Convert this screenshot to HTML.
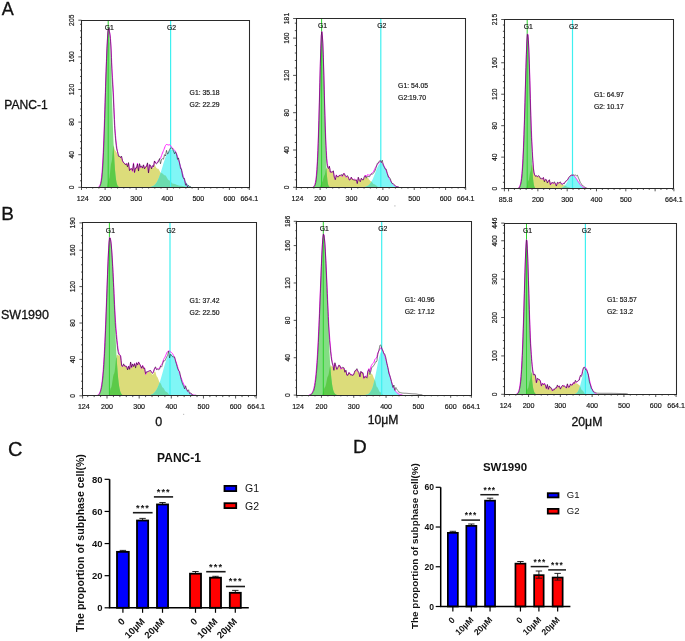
<!DOCTYPE html>
<html><head><meta charset="utf-8"><style>
html,body{margin:0;padding:0;background:#fff;}
svg{display:block;will-change:transform;}
text{font-family:"Liberation Sans", sans-serif;}
.h text{fill:#151515;stroke:#151515;stroke-width:0.18px;}
</style></head><body>
<svg width="685" height="641" viewBox="0 0 685 641">
<rect width="685" height="641" fill="#fff"/>
<g class="h" font-family='"Liberation Sans", sans-serif' fill="#222"><path d="M107 187.3 L107 186.47 L107.5 184.48 L108 182.12 L108.5 180.13 L109 179.3 L109.5 177.53 L110 173.32 L110.5 168.28 L111 164.07 L111.5 162.3 L112 159.64 L112.5 153.8 L113 147.96 L113.5 145.3 L114 146.6 L114.5 149 L115 150.3 L115.5 150.67 L116 151.6 L116.5 152.36 L117 153.38 L117.5 154.39 L118 155.28 L118.5 156.46 L119 156.64 L119.5 156.82 L120 157.21 L120.5 157.25 L121 156.99 L121.5 156.86 L122 158.81 L122.5 160.81 L123 161.8 L123.5 162.74 L124 163.2 L124.5 163.52 L125 164.05 L125.5 164.58 L126 163.85 L126.5 163.26 L127 164.62 L127.5 166.03 L128 164.58 L128.5 163.09 L129 166.76 L129.5 170.3 L130 169.56 L130.5 168.73 L131 168.66 L131.5 168.61 L132 170 L132.5 171.4 L133 167.16 L133.5 162.9 L134 167.75 L134.5 172.57 L135 170.26 L135.5 167.9 L136 168.09 L136.5 168.24 L137 165.7 L137.5 163.16 L138 167.01 L138.5 170.88 L139 167.41 L139.5 163.97 L140 165.93 L140.5 167.91 L141 167.28 L141.5 166.64 L142 167.21 L142.5 167.78 L143 166.33 L143.5 164.89 L144 166.85 L144.5 168.8 L145 167.64 L145.5 166.53 L146 166.21 L146.5 165.95 L147 164.59 L147.5 163.25 L148 168.22 L148.5 173.16 L149 169.06 L149.5 164.89 L150 165.58 L150.5 166.17 L151 167.63 L151.5 169.04 L152 167.97 L152.5 166.88 L153 167.51 L153.5 168.15 L154 165.66 L154.5 163.22 L155 164.76 L155.5 166.45 L156 167.2 L156.5 168.02 L157 168.4 L157.5 168.69 L158 168.77 L158.5 168.96 L159 169.67 L159.5 170.65 L160 171.63 L160.5 172.47 L161 172.8 L161.5 172.91 L162 173.19 L162.5 173.59 L163 174.05 L163.5 174.51 L164 174.91 L164.5 175.19 L165 175.3 L165.5 175.51 L166 176.08 L166.5 176.88 L167 177.8 L167.5 178.72 L168 179.52 L168.5 180.09 L169 180.3 L169.5 180.45 L170 180.83 L170.5 181.38 L171 182 L171.5 182.62 L172 183.17 L172.5 183.55 L173 183.7 L173.5 183.73 L174 183.81 L174.5 183.94 L175 184.1 L175.5 184.28 L176 184.49 L176.5 184.7 L177 184.91 L177.5 185.12 L178 185.3 L178.5 185.46 L179 185.59 L179.5 185.67 L180 185.7 L180.5 185.71 L181 185.75 L181.5 185.82 L182 185.9 L182.5 186 L183 186.11 L183.5 186.24 L184 186.37 L184.5 186.5 L185 186.63 L185.5 186.76 L186 186.89 L186.5 187 L187 187.1 L187.5 187.18 L188 187.25 L188 187.3 Z" fill="#dcdc7a"/>
<path d="M98 187.3 L98 187.23 L98.5 187.15 L99 186.98 L99.5 186.66 L100 186.06 L100.5 185.01 L101 183.26 L101.5 180.48 L102 176.29 L102.5 170.26 L103 162.03 L103.5 151.34 L104 138.17 L104.5 122.79 L105 105.83 L105.5 88.24 L106 71.17 L106.5 55.87 L107 43.48 L107.5 34.82 L108 30.24 L108.5 29.33 L109 31.08 L109.5 35.94 L110 44.04 L110.5 55.08 L111 68.48 L111.5 83.45 L112 99.12 L112.5 114.61 L113 129.18 L113.5 142.25 L114 153.48 L114.5 162.72 L115 170.01 L115.5 175.55 L116 179.57 L116.5 182.39 L117 184.29 L117.5 185.52 L118 186.28 L118.5 186.74 L119 187 L119.5 187.15 L120 187.22 L120 187.3 Z" fill="#82de82"/>
<path d="M147.5 187.3 L147.5 187.24 L148 187.22 L148.5 187.19 L149 187.15 L149.5 187.1 L150 187.03 L150.5 186.95 L151 186.84 L151.5 186.71 L152 186.54 L152.5 186.34 L153 186.09 L153.5 185.79 L154 185.44 L154.5 185.02 L155 184.53 L155.5 183.96 L156 183.31 L156.5 182.56 L157 181.72 L157.5 180.79 L158 179.75 L158.5 178.62 L159 177.39 L159.5 176.06 L160 174.65 L160.5 173.16 L161 171.61 L161.5 170 L162 168.36 L162.5 166.69 L163 165.02 L163.5 163.37 L164 161.75 L164.5 160.17 L165 158.67 L165.5 157.25 L166 155.93 L166.5 154.73 L167 153.65 L167.5 152.7 L168 151.88 L168.5 151.2 L169 150.66 L169.5 150.25 L170 149.97 L170.5 149.79 L171 149.71 L171.5 149.7 L172 149.71 L172.5 149.75 L173 149.85 L173.5 150.01 L174 150.27 L174.5 150.62 L175 151.09 L175.5 151.69 L176 152.42 L176.5 153.28 L177 154.29 L177.5 155.43 L178 156.71 L178.5 158.1 L179 159.61 L179.5 161.22 L180 162.91 L180.5 164.65 L181 166.43 L181.5 168.22 L182 170.01 L182.5 171.77 L183 173.47 L183.5 175.1 L184 176.64 L184.5 178.08 L185 179.41 L185.5 180.62 L186 181.7 L186.5 182.66 L187 183.5 L187.5 184.23 L188 184.84 L188.5 185.36 L189 185.79 L189.5 186.14 L190 186.42 L190.5 186.64 L191 186.81 L191.5 186.94 L192 187.04 L192.5 187.12 L193 187.17 L193.5 187.21 L194 187.24 L194 187.3 Z" fill="#80f6f6"/>
<path d="M107 187.3 L107 186.47 L107.5 184.48 L108 182.12 L108.5 180.13 L109 179.3 L109.5 177.53 L110 173.32 L110.5 168.28 L111 164.07 L111.5 162.3 L112 159.64 L112.5 153.8 L113 147.96 L113.5 145.3 L114 153.48 L114.5 162.72 L115 170.01 L115.5 175.55 L116 179.57 L116.5 182.39 L117 184.29 L117.5 185.52 L118 186.28 L118.5 186.74 L119 187 L119.5 187.15 L120 187.22 L120 187.3 Z" fill="#5cca48"/>
<path d="M147.5 187.3 L147.5 187.24 L148 187.22 L148.5 187.19 L149 187.15 L149.5 187.1 L150 187.03 L150.5 186.95 L151 186.84 L151.5 186.71 L152 186.54 L152.5 186.34 L153 186.09 L153.5 185.79 L154 185.44 L154.5 185.02 L155 184.53 L155.5 183.96 L156 183.31 L156.5 182.56 L157 181.72 L157.5 180.79 L158 179.75 L158.5 178.62 L159 177.39 L159.5 176.06 L160 174.65 L160.5 173.16 L161 172.8 L161.5 172.91 L162 173.19 L162.5 173.59 L163 174.05 L163.5 174.51 L164 174.91 L164.5 175.19 L165 175.3 L165.5 175.51 L166 176.08 L166.5 176.88 L167 177.8 L167.5 178.72 L168 179.52 L168.5 180.09 L169 180.3 L169.5 180.45 L170 180.83 L170.5 181.38 L171 182 L171.5 182.62 L172 183.17 L172.5 183.55 L173 183.7 L173.5 183.73 L174 183.81 L174.5 183.94 L175 184.1 L175.5 184.28 L176 184.49 L176.5 184.7 L177 184.91 L177.5 185.12 L178 185.3 L178.5 185.46 L179 185.59 L179.5 185.67 L180 185.7 L180.5 185.71 L181 185.75 L181.5 185.82 L182 185.9 L182.5 186 L183 186.11 L183.5 186.24 L184 186.37 L184.5 186.5 L185 186.63 L185.5 186.76 L186 186.89 L186.5 187 L187 187.1 L187.5 187.18 L188 187.25 L188 187.3 Z" fill="#6cdcae"/>
<line x1="108.2" y1="20.2" x2="108.2" y2="187.3" stroke="#2fd02f" stroke-width="1"/>
<line x1="170.6" y1="20.2" x2="170.6" y2="187.3" stroke="#3ff0f0" stroke-width="1.2"/>
<path d="M98.5 186.97 L99 186.65 L99.5 186.1 L100 185.16 L100.5 183.64 L101 181.27 L101.5 177.75 L102 172.73 L102.5 165.92 L103 157.05 L103.5 146.05 L104 133.02 L104.5 118.33 L105 102.6 L105.5 86.7 L106 71.6 L106.5 58.3 L107 46.83 L107.5 37.48 L108 31.23 L108.5 28.48 L109 29.12 L109.5 31.48 L110 34.16 L110.5 38.61 L111 46.03 L111.5 57.45 L112 68.83 L112.5 77.18 L113 85.02 L113.5 95 L114 107.51 L114.5 119.49 L115 128.64 L115.5 135.24 L116 140.93 L116.5 145.21 L117 148.73 L117.5 151.46 L118 153.49 L118.5 155.4 L119 156.03 L119.5 156.48 L120 157.03 L120.5 157.16 L121 156.94 L121.5 156.84 L122 158.8 L122.5 160.8 L123 161.79 L123.5 162.74 L124 163.2 L124.5 163.52 L125 164.05 L125.5 164.58 L126 163.85 L126.5 163.26 L127 164.62 L127.5 166.03 L128 164.58 L128.5 163.09 L129 166.76 L129.5 170.3 L130 169.56 L130.5 168.73 L131 168.66 L131.5 168.61 L132 170 L132.5 171.4 L133 167.16 L133.5 162.9 L134 167.75 L134.5 172.57 L135 170.26 L135.5 167.9 L136 168.09 L136.5 168.24 L137 165.7 L137.5 163.16 L138 167.01 L138.5 170.88 L139 167.41 L139.5 163.97 L140 165.93 L140.5 167.91 L141 167.27 L141.5 166.64 L142 167.21 L142.5 167.77 L143 166.33 L143.5 164.89 L144 166.84 L144.5 168.8 L145 167.63 L145.5 166.51 L146 166.18 L146.5 165.92 L147 164.55 L147.5 163.19 L148 168.13 L148.5 173.05 L149 168.91 L149.5 164.69 L150 165.31 L150.5 165.82 L151 167.17 L151.5 168.45 L152 167.21 L152.5 165.92 L153 166.3 L153.5 166.64 L154 163.8 L154.5 160.94 L155 161.99 L155.5 163.11 L156 163.2 L156.5 163.29 L157 162.82 L157.5 162.18 L158 161.22 L158.5 160.28 L159 159.76 L159.5 159.41 L160 158.99 L160.5 158.33 L161 157.11 L161.5 155.61 L162 154.25 L162.5 152.99 L163 151.77 L163.5 150.58 L164 149.36 L164.5 148.07 L165 146.67 L165.5 145.47 L166 144.72 L166.5 144.51 L167 144.54 L167.5 144.7 L168 144.88 L168.5 144.96 L169 144.82 L169.5 144.74 L170 145.02 L170.5 145.56 L171 146.28 L171.5 147.05 L172 147.76 L172.5 148.34 L173 148.72 L173.5 149.05 L174 149.51 L174.5 150.11 L175 150.85 L175.5 151.74 L176 152.76 L176.5 153.92 L177 155.2 L177.5 156.61 L178 158.12 L178.5 159.72 L179 161.38 L179.5 163.09 L180 164.81 L180.5 166.56 L181 168.36 L181.5 170.19 L182 172.02 L182.5 173.83 L183 175.59 L183.5 177.27 L184 178.86 L184.5 180.34 L185 181.7 L185.5 182.93 L186 184.02 L186.5 184.97 L187 185.77 L187.5 186.44 L188 186.97" fill="none" stroke="#ff20ff" stroke-width="1.0" stroke-linejoin="round"/>
<path d="M99 187.06 L99.5 186.82 L100 186.18 L100.5 184.88 L101 183.11 L101.5 180.44 L102 176.65 L102.5 171.1 L103 163.13 L103.5 152.8 L104 140.62 L104.5 125.94 L105 109.47 L105.5 92.39 L106 76.06 L106.5 61.44 L107 48.59 L107.5 38.17 L108 31.24 L108.5 28.22 L109 29.19 L109.5 32.21 L110 35.72 L110.5 41.25 L111 50.05 L111.5 62.82 L112 75.16 L112.5 84.15 L113 92.2 L113.5 102.02 L114 114.15 L114.5 125.49 L115 133.46 L115.5 138.75 L116 144.08 L116.5 148.09 L117 150.24 L117.5 151.73 L118 154.08 L118.5 156.41 L119 156.33 L119.5 156.14 L120 157.07 L120.5 157.6 L121 156.75 L121.5 156.03 L122 158.36 L122.5 160.74 L123 161.66 L123.5 162.54 L124 162.91 L124.5 163.15 L125 164.02 L125.5 164.9 L126 164.27 L126.5 163.78 L127 165.39 L127.5 167.04 L128 164.78 L128.5 162.48 L129 166.63 L129.5 170.65 L130 169.88 L130.5 169.03 L131 168.81 L131.5 168.63 L132 169.51 L132.5 170.41 L133 167.09 L133.5 163.76 L134 168.12 L134.5 172.45 L135 170.3 L135.5 168.09 L136 168.05 L136.5 167.97 L137 166.02 L137.5 164.06 L138 167.56 L138.5 171.08 L139 167.3 L139.5 163.55 L140 165.33 L140.5 167.13 L141 166.49 L141.5 165.84 L142 167.02 L142.5 168.2 L143 166.53 L143.5 164.86 L144 166.86 L144.5 168.85 L145 168 L145.5 167.2 L146 166.89 L146.5 166.64 L147 164.72 L147.5 162.81 L148 167.88 L148.5 172.92 L149 168.88 L149.5 164.76 L150 165.04 L150.5 165.21 L151 167.12 L151.5 168.95 L152 167.33 L152.5 165.65 L153 166.16 L153.5 166.64 L154 163.81 L154.5 160.97 L155 161.88 L155.5 163.07 L156 163.44 L156.5 163.8 L157 163.52 L157.5 163.05 L158 161.84 L158.5 161.65 L159 160.03 L159.5 158.56 L160 161.32 L160.5 163.81 L161 161.77 L161.5 159.4 L162 159.02 L162.5 158.69 L163 158.96 L163.5 159.18 L164 156.99 L164.5 154.67 L165 155.26 L165.5 155.96 L166 153.01 L166.5 150.34 L167 152.23 L167.5 154.18 L168 153.58 L168.5 152.81 L169 151.24 L169.5 149.68 L170 148.78 L170.5 148.12 L171 148.07 L171.5 148.07 L172 148.09 L172.5 148.54 L173 149.99 L173.5 151.38 L174 152.52 L174.5 153.79 L175 152.72 L175.5 151.8 L176 152.95 L176.5 154.23 L177 156.76 L177.5 159.4 L178 158.65 L178.5 157.99 L179 160.37 L179.5 162.79 L180 165.66 L180.5 168.56 L181 168.71 L181.5 168.88 L182 172.55 L182.5 176.19 L183 177.35 L183.5 178.45 L184 178.54 L184.5 178.53 L185 181.96 L185.5 185.27 L186 184.54 L186.5 183.67 L187 185.65 L187.5 187.01 L188 185.93 L188.5 185.32 L189 186.19 L189.5 186.71 L190 186.52 L190.5 186.59 L191 186.95" fill="none" stroke="rgba(15,15,15,0.8)" stroke-width="0.65" stroke-linejoin="round"/>
<path d="M81.5 20.5 L249.5 20.5 L249.5 187.5 L81.5 187.5 Z" fill="none" stroke="#2a2a2a" stroke-width="1.05"/>
<line x1="78.3" y1="187.3" x2="81.5" y2="187.3" stroke="#2a2a2a" stroke-width="0.8"/>
<line x1="80" y1="180.78" x2="81.5" y2="180.78" stroke="#2a2a2a" stroke-width="0.8"/>
<line x1="80" y1="174.26" x2="81.5" y2="174.26" stroke="#2a2a2a" stroke-width="0.8"/>
<line x1="80" y1="167.74" x2="81.5" y2="167.74" stroke="#2a2a2a" stroke-width="0.8"/>
<line x1="80" y1="161.22" x2="81.5" y2="161.22" stroke="#2a2a2a" stroke-width="0.8"/>
<line x1="78.3" y1="154.7" x2="81.5" y2="154.7" stroke="#2a2a2a" stroke-width="0.8"/>
<line x1="80" y1="148.17" x2="81.5" y2="148.17" stroke="#2a2a2a" stroke-width="0.8"/>
<line x1="80" y1="141.65" x2="81.5" y2="141.65" stroke="#2a2a2a" stroke-width="0.8"/>
<line x1="80" y1="135.13" x2="81.5" y2="135.13" stroke="#2a2a2a" stroke-width="0.8"/>
<line x1="80" y1="128.61" x2="81.5" y2="128.61" stroke="#2a2a2a" stroke-width="0.8"/>
<line x1="78.3" y1="122.09" x2="81.5" y2="122.09" stroke="#2a2a2a" stroke-width="0.8"/>
<line x1="80" y1="115.57" x2="81.5" y2="115.57" stroke="#2a2a2a" stroke-width="0.8"/>
<line x1="80" y1="109.05" x2="81.5" y2="109.05" stroke="#2a2a2a" stroke-width="0.8"/>
<line x1="80" y1="102.53" x2="81.5" y2="102.53" stroke="#2a2a2a" stroke-width="0.8"/>
<line x1="80" y1="96.01" x2="81.5" y2="96.01" stroke="#2a2a2a" stroke-width="0.8"/>
<line x1="78.3" y1="89.49" x2="81.5" y2="89.49" stroke="#2a2a2a" stroke-width="0.8"/>
<line x1="80" y1="82.96" x2="81.5" y2="82.96" stroke="#2a2a2a" stroke-width="0.8"/>
<line x1="80" y1="76.44" x2="81.5" y2="76.44" stroke="#2a2a2a" stroke-width="0.8"/>
<line x1="80" y1="69.92" x2="81.5" y2="69.92" stroke="#2a2a2a" stroke-width="0.8"/>
<line x1="80" y1="63.4" x2="81.5" y2="63.4" stroke="#2a2a2a" stroke-width="0.8"/>
<line x1="78.3" y1="56.88" x2="81.5" y2="56.88" stroke="#2a2a2a" stroke-width="0.8"/>
<line x1="80" y1="50.36" x2="81.5" y2="50.36" stroke="#2a2a2a" stroke-width="0.8"/>
<line x1="80" y1="43.84" x2="81.5" y2="43.84" stroke="#2a2a2a" stroke-width="0.8"/>
<line x1="80" y1="37.32" x2="81.5" y2="37.32" stroke="#2a2a2a" stroke-width="0.8"/>
<line x1="80" y1="30.8" x2="81.5" y2="30.8" stroke="#2a2a2a" stroke-width="0.8"/>
<line x1="80" y1="24.28" x2="81.5" y2="24.28" stroke="#2a2a2a" stroke-width="0.8"/>
<line x1="78.3" y1="20.2" x2="81.5" y2="20.2" stroke="#2a2a2a" stroke-width="0.8"/>
<text x="74.3" y="187.3" transform="rotate(-90 74.3 187.3)" text-anchor="middle" font-size="6.8">0</text>
<text x="74.3" y="154.7" transform="rotate(-90 74.3 154.7)" text-anchor="middle" font-size="6.8">40</text>
<text x="74.3" y="122.09" transform="rotate(-90 74.3 122.09)" text-anchor="middle" font-size="6.8">80</text>
<text x="74.3" y="89.49" transform="rotate(-90 74.3 89.49)" text-anchor="middle" font-size="6.8">120</text>
<text x="74.3" y="56.88" transform="rotate(-90 74.3 56.88)" text-anchor="middle" font-size="6.8">160</text>
<text x="74.3" y="20.2" transform="rotate(-90 74.3 20.2)" text-anchor="middle" font-size="6.8">205</text>
<line x1="86.47" y1="187.3" x2="86.47" y2="188.6" stroke="#2a2a2a" stroke-width="0.8"/>
<line x1="92.68" y1="187.3" x2="92.68" y2="188.6" stroke="#2a2a2a" stroke-width="0.8"/>
<line x1="98.9" y1="187.3" x2="98.9" y2="188.6" stroke="#2a2a2a" stroke-width="0.8"/>
<line x1="105.11" y1="187.3" x2="105.11" y2="190" stroke="#2a2a2a" stroke-width="0.8"/>
<line x1="111.33" y1="187.3" x2="111.33" y2="188.6" stroke="#2a2a2a" stroke-width="0.8"/>
<line x1="117.54" y1="187.3" x2="117.54" y2="188.6" stroke="#2a2a2a" stroke-width="0.8"/>
<line x1="123.75" y1="187.3" x2="123.75" y2="188.6" stroke="#2a2a2a" stroke-width="0.8"/>
<line x1="129.97" y1="187.3" x2="129.97" y2="188.6" stroke="#2a2a2a" stroke-width="0.8"/>
<line x1="136.18" y1="187.3" x2="136.18" y2="190" stroke="#2a2a2a" stroke-width="0.8"/>
<line x1="142.39" y1="187.3" x2="142.39" y2="188.6" stroke="#2a2a2a" stroke-width="0.8"/>
<line x1="148.61" y1="187.3" x2="148.61" y2="188.6" stroke="#2a2a2a" stroke-width="0.8"/>
<line x1="154.82" y1="187.3" x2="154.82" y2="188.6" stroke="#2a2a2a" stroke-width="0.8"/>
<line x1="161.03" y1="187.3" x2="161.03" y2="188.6" stroke="#2a2a2a" stroke-width="0.8"/>
<line x1="167.25" y1="187.3" x2="167.25" y2="190" stroke="#2a2a2a" stroke-width="0.8"/>
<line x1="173.46" y1="187.3" x2="173.46" y2="188.6" stroke="#2a2a2a" stroke-width="0.8"/>
<line x1="179.68" y1="187.3" x2="179.68" y2="188.6" stroke="#2a2a2a" stroke-width="0.8"/>
<line x1="185.89" y1="187.3" x2="185.89" y2="188.6" stroke="#2a2a2a" stroke-width="0.8"/>
<line x1="192.1" y1="187.3" x2="192.1" y2="188.6" stroke="#2a2a2a" stroke-width="0.8"/>
<line x1="198.32" y1="187.3" x2="198.32" y2="190" stroke="#2a2a2a" stroke-width="0.8"/>
<line x1="204.53" y1="187.3" x2="204.53" y2="188.6" stroke="#2a2a2a" stroke-width="0.8"/>
<line x1="210.74" y1="187.3" x2="210.74" y2="188.6" stroke="#2a2a2a" stroke-width="0.8"/>
<line x1="216.96" y1="187.3" x2="216.96" y2="188.6" stroke="#2a2a2a" stroke-width="0.8"/>
<line x1="223.17" y1="187.3" x2="223.17" y2="188.6" stroke="#2a2a2a" stroke-width="0.8"/>
<line x1="229.39" y1="187.3" x2="229.39" y2="190" stroke="#2a2a2a" stroke-width="0.8"/>
<line x1="235.6" y1="187.3" x2="235.6" y2="188.6" stroke="#2a2a2a" stroke-width="0.8"/>
<line x1="241.81" y1="187.3" x2="241.81" y2="188.6" stroke="#2a2a2a" stroke-width="0.8"/>
<line x1="248.03" y1="187.3" x2="248.03" y2="188.6" stroke="#2a2a2a" stroke-width="0.8"/>
<line x1="81.5" y1="187.3" x2="81.5" y2="190" stroke="#2a2a2a" stroke-width="0.8"/>
<line x1="249.3" y1="187.3" x2="249.3" y2="190" stroke="#2a2a2a" stroke-width="0.8"/>
<text x="82.7" y="200.9" text-anchor="middle" font-size="7.1">124</text>
<text x="105.11" y="200.9" text-anchor="middle" font-size="7.1">200</text>
<text x="136.18" y="200.9" text-anchor="middle" font-size="7.1">300</text>
<text x="167.25" y="200.9" text-anchor="middle" font-size="7.1">400</text>
<text x="198.32" y="200.9" text-anchor="middle" font-size="7.1">500</text>
<text x="229.39" y="200.9" text-anchor="middle" font-size="7.1">600</text>
<text x="249.3" y="200.9" text-anchor="middle" font-size="7.1">664.1</text>
<text x="109.2" y="29.8" text-anchor="middle" font-size="6.8">G1</text>
<text x="171.6" y="29.8" text-anchor="middle" font-size="6.8">G2</text>
<text x="189.6" y="95.1" font-size="6.8">G1: 35.18</text>
<text x="189.6" y="106.5" font-size="6.8">G2: 22.29</text></g>
<g class="h" font-family='"Liberation Sans", sans-serif' fill="#222"><path d="M319.8 187.3 L319.8 187.1 L320.3 186.09 L320.8 184.65 L321.3 183.26 L321.8 182.39 L322.3 182.02 L322.8 180.61 L323.3 178.59 L323.8 176.64 L324.3 175.43 L324.8 174.78 L325.3 172.38 L325.8 169.62 L326.3 168.3 L326.8 168.34 L327.3 168.43 L327.8 168.53 L328.3 168.74 L328.8 168.05 L329.3 166.33 L329.8 168.63 L330.3 172.3 L330.8 172.16 L331.3 172.08 L331.8 172.09 L332.3 172.1 L332.8 171.6 L333.3 171.01 L333.8 174.18 L334.3 177.18 L334.8 178.58 L335.3 179.78 L335.8 177.31 L336.3 174.84 L336.8 175.79 L337.3 176.73 L337.8 176.63 L338.3 176.52 L338.8 175.84 L339.3 175.16 L339.8 175.35 L340.3 175.54 L340.8 175.49 L341.3 175.43 L341.8 176.01 L342.3 176.59 L342.8 175.21 L343.3 173.84 L343.8 173.66 L344.3 173.53 L344.8 174.82 L345.3 176.17 L345.8 176.77 L346.3 177.41 L346.8 176.74 L347.3 176.09 L347.8 176.59 L348.3 177.08 L348.8 178.57 L349.3 180.02 L349.8 179.76 L350.3 179.44 L350.8 178.31 L351.3 177.12 L351.8 178.08 L352.3 179.06 L352.8 179.35 L353.3 179.65 L353.8 179.36 L354.3 179.07 L354.8 179.42 L355.3 179.77 L355.8 179.89 L356.3 180 L356.8 181.66 L357.3 183.3 L357.8 180.42 L358.3 177.5 L358.8 178.73 L359.3 179.95 L359.8 180.77 L360.3 181.59 L360.8 180.04 L361.3 178.49 L361.8 178.96 L362.3 179.42 L362.8 179.58 L363.3 179.75 L363.8 178.87 L364.3 177.99 L364.8 176.98 L365.3 175.99 L365.8 177.35 L366.3 178.68 L366.8 177.79 L367.3 177.27 L367.8 177.56 L368.3 178.1 L368.8 179.25 L369.3 179.71 L369.8 180.3 L370.3 180.89 L370.8 181.26 L371.3 181.38 L371.8 181.83 L372.3 182.5 L372.8 183.24 L373.3 183.89 L373.8 184.26 L374.3 184.33 L374.8 184.51 L375.3 184.8 L375.8 185.19 L376.3 185.62 L376.8 186.07 L377.3 186.5 L377.8 186.86 L378.3 187.14 L378.3 187.3 Z" fill="#dcdc7a"/>
<path d="M312.3 187.3 L312.3 187.24 L312.8 187.17 L313.3 187.04 L313.8 186.79 L314.3 186.33 L314.8 185.54 L315.3 184.19 L315.8 182 L316.3 178.58 L316.8 173.46 L317.3 166.11 L317.8 156.04 L318.3 142.9 L318.8 126.65 L319.3 107.72 L319.8 87.16 L320.3 66.71 L320.8 48.71 L321.3 35.98 L321.8 31.97 L322.3 35.28 L322.8 44.35 L323.3 58.85 L323.8 77.4 L324.3 98.02 L324.8 118.59 L325.3 137.3 L325.8 152.96 L326.3 165.07 L326.8 173.76 L327.3 179.54 L327.8 183.13 L328.3 185.2 L328.8 186.31 L329.3 186.86 L329.8 187.12 L330.3 187.23 L330.3 187.3 Z" fill="#82de82"/>
<path d="M361.3 187.3 L361.3 187.25 L361.8 187.23 L362.3 187.21 L362.8 187.18 L363.3 187.13 L363.8 187.08 L364.3 187.01 L364.8 186.93 L365.3 186.82 L365.8 186.68 L366.3 186.52 L366.8 186.32 L367.3 186.07 L367.8 185.78 L368.3 185.43 L368.8 185.02 L369.3 184.54 L369.8 183.98 L370.3 183.35 L370.8 182.64 L371.3 181.83 L371.8 180.95 L372.3 179.97 L372.8 178.91 L373.3 177.78 L373.8 176.58 L374.3 175.32 L374.8 174.03 L375.3 172.71 L375.8 171.38 L376.3 170.07 L376.8 168.81 L377.3 167.6 L377.8 166.49 L378.3 165.49 L378.8 164.62 L379.3 163.9 L379.8 163.36 L380.3 162.99 L380.8 162.82 L381.3 162.83 L381.8 163.02 L382.3 163.39 L382.8 163.91 L383.3 164.59 L383.8 165.41 L384.3 166.35 L384.8 167.39 L385.3 168.51 L385.8 169.7 L386.3 170.93 L386.8 172.19 L387.3 173.45 L387.8 174.69 L388.3 175.9 L388.8 177.08 L389.3 178.19 L389.8 179.24 L390.3 180.23 L390.8 181.13 L391.3 181.96 L391.8 182.71 L392.3 183.39 L392.8 183.98 L393.3 184.51 L393.8 184.97 L394.3 185.37 L394.8 185.71 L395.3 186 L395.8 186.25 L396.3 186.45 L396.8 186.62 L397.3 186.76 L397.8 186.87 L398.3 186.97 L398.8 187.04 L399.3 187.1 L399.8 187.15 L400.3 187.18 L400.8 187.21 L401.3 187.23 L401.3 187.3 Z" fill="#80f6f6"/>
<path d="M319.8 187.3 L319.8 187.1 L320.3 186.09 L320.8 184.65 L321.3 183.26 L321.8 182.39 L322.3 182.02 L322.8 180.61 L323.3 178.59 L323.8 176.64 L324.3 175.43 L324.8 174.78 L325.3 172.38 L325.8 169.62 L326.3 168.3 L326.8 173.76 L327.3 179.54 L327.8 183.13 L328.3 185.2 L328.8 186.31 L329.3 186.86 L329.8 187.12 L330.3 187.23 L330.3 187.3 Z" fill="#5cca48"/>
<path d="M361.3 187.3 L361.3 187.25 L361.8 187.23 L362.3 187.21 L362.8 187.18 L363.3 187.13 L363.8 187.08 L364.3 187.01 L364.8 186.93 L365.3 186.82 L365.8 186.68 L366.3 186.52 L366.8 186.32 L367.3 186.07 L367.8 185.78 L368.3 185.43 L368.8 185.02 L369.3 184.54 L369.8 183.98 L370.3 183.35 L370.8 182.64 L371.3 181.83 L371.8 181.83 L372.3 182.5 L372.8 183.24 L373.3 183.89 L373.8 184.26 L374.3 184.33 L374.8 184.51 L375.3 184.8 L375.8 185.19 L376.3 185.62 L376.8 186.07 L377.3 186.5 L377.8 186.86 L378.3 187.14 L378.3 187.3 Z" fill="#6cdcae"/>
<line x1="321.6" y1="18.5" x2="321.6" y2="187.3" stroke="#2fd02f" stroke-width="1"/>
<line x1="380.8" y1="18.5" x2="380.8" y2="187.3" stroke="#3ff0f0" stroke-width="1.2"/>
<path d="M312.8 187.04 L313.3 186.8 L313.8 186.39 L314.3 185.7 L314.8 184.54 L315.3 182.71 L315.8 179.88 L316.3 175.69 L316.8 169.69 L317.3 161.46 L317.8 150.63 L318.3 137 L318.8 120.69 L319.3 102.23 L319.8 82.68 L320.3 63.58 L320.8 46.97 L321.3 35.29 L321.8 31.57 L322.3 34.44 L322.8 42.25 L323.3 54.81 L323.8 71.13 L324.3 89.75 L324.8 108.87 L325.3 125.92 L325.8 139.75 L326.3 150.58 L326.8 158.67 L327.3 163.71 L327.8 166.47 L328.3 167.94 L328.8 167.78 L329.3 166.25 L329.8 168.6 L330.3 172.3 L330.8 172.15 L331.3 172.08 L331.8 172.09 L332.3 172.1 L332.8 171.6 L333.3 171.01 L333.8 174.18 L334.3 177.18 L334.8 178.58 L335.3 179.78 L335.8 177.31 L336.3 174.84 L336.8 175.79 L337.3 176.73 L337.8 176.63 L338.3 176.52 L338.8 175.84 L339.3 175.16 L339.8 175.35 L340.3 175.54 L340.8 175.49 L341.3 175.43 L341.8 176.01 L342.3 176.59 L342.8 175.21 L343.3 173.84 L343.8 173.66 L344.3 173.53 L344.8 174.82 L345.3 176.17 L345.8 176.77 L346.3 177.41 L346.8 176.74 L347.3 176.09 L347.8 176.59 L348.3 177.08 L348.8 178.57 L349.3 180.02 L349.8 179.76 L350.3 179.44 L350.8 178.31 L351.3 177.12 L351.8 178.08 L352.3 179.06 L352.8 179.35 L353.3 179.65 L353.8 179.36 L354.3 179.07 L354.8 179.42 L355.3 179.77 L355.8 179.89 L356.3 180 L356.8 181.66 L357.3 183.29 L357.8 180.41 L358.3 177.49 L358.8 178.73 L359.3 179.94 L359.8 180.76 L360.3 181.56 L360.8 180 L361.3 178.44 L361.8 178.89 L362.3 179.33 L362.8 179.46 L363.3 179.58 L363.8 178.65 L364.3 177.59 L364.8 176.3 L365.3 175 L365.8 176.03 L366.3 177.02 L366.8 175.74 L367.3 174.8 L367.8 174.63 L368.3 174.67 L368.8 175.25 L369.3 175.1 L369.8 175.01 L370.3 174.85 L370.8 174.41 L371.3 173.64 L371.8 173.12 L372.3 172.76 L372.8 172.4 L373.3 171.88 L373.8 171.04 L374.3 169.86 L374.8 168.75 L375.3 167.76 L375.8 166.87 L376.3 166.05 L376.8 165.31 L377.3 164.63 L377.8 163.99 L378.3 163.38 L378.8 162.78 L379.3 162.22 L379.8 161.82 L380.3 161.62 L380.8 161.61 L381.3 161.8 L381.8 162.18 L382.3 162.73 L382.8 163.45 L383.3 164.32 L383.8 165.33 L384.3 166.35 L384.8 167.39 L385.3 168.51 L385.8 169.7 L386.3 170.93 L386.8 172.19 L387.3 173.45 L387.8 174.69 L388.3 175.9 L388.8 177.08 L389.3 178.19 L389.8 179.24 L390.3 180.23 L390.8 181.13 L391.3 181.96 L391.8 182.71 L392.3 183.39 L392.8 183.98 L393.3 184.51 L393.8 184.97 L394.3 185.37 L394.8 185.71 L395.3 186 L395.8 186.25 L396.3 186.45 L396.8 186.62 L397.3 186.76 L397.8 186.87 L398.3 186.97 L398.8 187.04" fill="none" stroke="#ff20ff" stroke-width="1.0" stroke-linejoin="round"/>
<path d="M313.3 187.07 L313.8 186.83 L314.3 186.38 L314.8 185.66 L315.3 184.47 L315.8 182.53 L316.3 179.2 L316.8 174.07 L317.3 166.72 L317.8 156.6 L318.3 143.42 L318.8 126.98 L319.3 108.08 L319.8 87.26 L320.3 66.49 L320.8 48.46 L321.3 35.66 L321.8 31.77 L322.3 35.25 L322.8 43.81 L323.3 57.61 L323.8 75.64 L324.3 95.74 L324.8 115.54 L325.3 132.16 L325.8 145.63 L326.3 155.55 L326.8 162.13 L327.3 165.81 L327.8 167.72 L328.3 168.74 L328.8 168.09 L329.3 166.24 L329.8 168.46 L330.3 172.05 L330.8 171.99 L331.3 171.99 L331.8 172.11 L332.3 172.23 L332.8 171.52 L333.3 170.72 L333.8 174.01 L334.3 177.14 L334.8 178.5 L335.3 179.66 L335.8 177.49 L336.3 175.32 L336.8 175.97 L337.3 176.63 L337.8 176.83 L338.3 177.03 L338.8 176.31 L339.3 175.59 L339.8 175.53 L340.3 175.46 L340.8 174.91 L341.3 174.36 L341.8 175.22 L342.3 176.08 L342.8 174.96 L343.3 173.83 L343.8 173.71 L344.3 173.62 L344.8 174.61 L345.3 175.66 L345.8 176.16 L346.3 176.7 L346.8 176.08 L347.3 175.46 L347.8 176.32 L348.3 177.18 L348.8 178.57 L349.3 179.93 L349.8 179.79 L350.3 179.61 L350.8 178.47 L351.3 177.27 L351.8 178.37 L352.3 179.5 L352.8 179.63 L353.3 179.78 L353.8 179.97 L354.3 180.17 L354.8 180.28 L355.3 180.38 L355.8 180.09 L356.3 179.78 L356.8 181.79 L357.3 183.67 L357.8 180.51 L358.3 177.22 L358.8 178.92 L359.3 180.6 L359.8 181.18 L360.3 181.75 L360.8 180 L361.3 178.24 L361.8 179.05 L362.3 179.86 L362.8 179.91 L363.3 179.95 L363.8 178.2 L364.3 176.44 L364.8 176.15 L365.3 175.86 L365.8 177.09 L366.3 178.26 L366.8 177.14 L367.3 176.34 L367.8 176.17 L368.3 176.18 L368.8 176.96 L369.3 176.99 L369.8 176.25 L370.3 175.24 L370.8 174.71 L371.3 173.87 L371.8 174.04 L372.3 174.38 L372.8 173.77 L373.3 173.01 L373.8 172.8 L374.3 172.27 L374.8 171.09 L375.3 170.05 L375.8 168.49 L376.3 167.03 L376.8 165.14 L377.3 163.32 L377.8 163.17 L378.3 163.08 L378.8 162.04 L379.3 161.05 L379.8 160.66 L380.3 160.47 L380.8 161.45 L381.3 162.63 L381.8 161.41 L382.3 160.17 L382.8 162.7 L383.3 165.4 L383.8 166.29 L384.3 167.31 L384.8 168.2 L385.3 169.17 L385.8 169.16 L386.3 169.19 L386.8 171.42 L387.3 173.66 L387.8 175.36 L388.3 177.04 L388.8 177.31 L389.3 177.53 L389.8 178.04 L390.3 178.49 L390.8 180.35 L391.3 182.13 L391.8 182.97 L392.3 183.69 L392.8 183.56 L393.3 183.58 L393.8 184.23 L394.3 184.79 L394.8 185.24 L395.3 185.62 L395.8 186.22 L396.3 186.65 L396.8 186.67 L397.3 186.71 L397.8 186.83 L398.3 186.93 L398.8 187.1" fill="none" stroke="rgba(15,15,15,0.8)" stroke-width="0.65" stroke-linejoin="round"/>
<path d="M296.5 18.5 L465.5 18.5 L465.5 187.5 L296.5 187.5 Z" fill="none" stroke="#2a2a2a" stroke-width="1.05"/>
<line x1="293.1" y1="187.3" x2="296.3" y2="187.3" stroke="#2a2a2a" stroke-width="0.8"/>
<line x1="294.8" y1="179.84" x2="296.3" y2="179.84" stroke="#2a2a2a" stroke-width="0.8"/>
<line x1="294.8" y1="172.38" x2="296.3" y2="172.38" stroke="#2a2a2a" stroke-width="0.8"/>
<line x1="294.8" y1="164.92" x2="296.3" y2="164.92" stroke="#2a2a2a" stroke-width="0.8"/>
<line x1="294.8" y1="157.46" x2="296.3" y2="157.46" stroke="#2a2a2a" stroke-width="0.8"/>
<line x1="293.1" y1="150" x2="296.3" y2="150" stroke="#2a2a2a" stroke-width="0.8"/>
<line x1="294.8" y1="142.54" x2="296.3" y2="142.54" stroke="#2a2a2a" stroke-width="0.8"/>
<line x1="294.8" y1="135.07" x2="296.3" y2="135.07" stroke="#2a2a2a" stroke-width="0.8"/>
<line x1="294.8" y1="127.61" x2="296.3" y2="127.61" stroke="#2a2a2a" stroke-width="0.8"/>
<line x1="294.8" y1="120.15" x2="296.3" y2="120.15" stroke="#2a2a2a" stroke-width="0.8"/>
<line x1="293.1" y1="112.69" x2="296.3" y2="112.69" stroke="#2a2a2a" stroke-width="0.8"/>
<line x1="294.8" y1="105.23" x2="296.3" y2="105.23" stroke="#2a2a2a" stroke-width="0.8"/>
<line x1="294.8" y1="97.77" x2="296.3" y2="97.77" stroke="#2a2a2a" stroke-width="0.8"/>
<line x1="294.8" y1="90.31" x2="296.3" y2="90.31" stroke="#2a2a2a" stroke-width="0.8"/>
<line x1="294.8" y1="82.85" x2="296.3" y2="82.85" stroke="#2a2a2a" stroke-width="0.8"/>
<line x1="293.1" y1="75.39" x2="296.3" y2="75.39" stroke="#2a2a2a" stroke-width="0.8"/>
<line x1="294.8" y1="67.93" x2="296.3" y2="67.93" stroke="#2a2a2a" stroke-width="0.8"/>
<line x1="294.8" y1="60.47" x2="296.3" y2="60.47" stroke="#2a2a2a" stroke-width="0.8"/>
<line x1="294.8" y1="53.01" x2="296.3" y2="53.01" stroke="#2a2a2a" stroke-width="0.8"/>
<line x1="294.8" y1="45.55" x2="296.3" y2="45.55" stroke="#2a2a2a" stroke-width="0.8"/>
<line x1="293.1" y1="38.08" x2="296.3" y2="38.08" stroke="#2a2a2a" stroke-width="0.8"/>
<line x1="294.8" y1="30.62" x2="296.3" y2="30.62" stroke="#2a2a2a" stroke-width="0.8"/>
<line x1="294.8" y1="23.16" x2="296.3" y2="23.16" stroke="#2a2a2a" stroke-width="0.8"/>
<line x1="293.1" y1="18.5" x2="296.3" y2="18.5" stroke="#2a2a2a" stroke-width="0.8"/>
<text x="289.1" y="187.3" transform="rotate(-90 289.1 187.3)" text-anchor="middle" font-size="6.8">0</text>
<text x="289.1" y="150" transform="rotate(-90 289.1 150)" text-anchor="middle" font-size="6.8">40</text>
<text x="289.1" y="112.69" transform="rotate(-90 289.1 112.69)" text-anchor="middle" font-size="6.8">80</text>
<text x="289.1" y="75.39" transform="rotate(-90 289.1 75.39)" text-anchor="middle" font-size="6.8">120</text>
<text x="289.1" y="38.08" transform="rotate(-90 289.1 38.08)" text-anchor="middle" font-size="6.8">160</text>
<text x="289.1" y="18.5" transform="rotate(-90 289.1 18.5)" text-anchor="middle" font-size="6.8">181</text>
<line x1="301.32" y1="187.3" x2="301.32" y2="188.6" stroke="#2a2a2a" stroke-width="0.8"/>
<line x1="307.59" y1="187.3" x2="307.59" y2="188.6" stroke="#2a2a2a" stroke-width="0.8"/>
<line x1="313.86" y1="187.3" x2="313.86" y2="188.6" stroke="#2a2a2a" stroke-width="0.8"/>
<line x1="320.14" y1="187.3" x2="320.14" y2="190" stroke="#2a2a2a" stroke-width="0.8"/>
<line x1="326.41" y1="187.3" x2="326.41" y2="188.6" stroke="#2a2a2a" stroke-width="0.8"/>
<line x1="332.68" y1="187.3" x2="332.68" y2="188.6" stroke="#2a2a2a" stroke-width="0.8"/>
<line x1="338.96" y1="187.3" x2="338.96" y2="188.6" stroke="#2a2a2a" stroke-width="0.8"/>
<line x1="345.23" y1="187.3" x2="345.23" y2="188.6" stroke="#2a2a2a" stroke-width="0.8"/>
<line x1="351.5" y1="187.3" x2="351.5" y2="190" stroke="#2a2a2a" stroke-width="0.8"/>
<line x1="357.77" y1="187.3" x2="357.77" y2="188.6" stroke="#2a2a2a" stroke-width="0.8"/>
<line x1="364.05" y1="187.3" x2="364.05" y2="188.6" stroke="#2a2a2a" stroke-width="0.8"/>
<line x1="370.32" y1="187.3" x2="370.32" y2="188.6" stroke="#2a2a2a" stroke-width="0.8"/>
<line x1="376.59" y1="187.3" x2="376.59" y2="188.6" stroke="#2a2a2a" stroke-width="0.8"/>
<line x1="382.87" y1="187.3" x2="382.87" y2="190" stroke="#2a2a2a" stroke-width="0.8"/>
<line x1="389.14" y1="187.3" x2="389.14" y2="188.6" stroke="#2a2a2a" stroke-width="0.8"/>
<line x1="395.41" y1="187.3" x2="395.41" y2="188.6" stroke="#2a2a2a" stroke-width="0.8"/>
<line x1="401.68" y1="187.3" x2="401.68" y2="188.6" stroke="#2a2a2a" stroke-width="0.8"/>
<line x1="407.96" y1="187.3" x2="407.96" y2="188.6" stroke="#2a2a2a" stroke-width="0.8"/>
<line x1="414.23" y1="187.3" x2="414.23" y2="190" stroke="#2a2a2a" stroke-width="0.8"/>
<line x1="420.5" y1="187.3" x2="420.5" y2="188.6" stroke="#2a2a2a" stroke-width="0.8"/>
<line x1="426.78" y1="187.3" x2="426.78" y2="188.6" stroke="#2a2a2a" stroke-width="0.8"/>
<line x1="433.05" y1="187.3" x2="433.05" y2="188.6" stroke="#2a2a2a" stroke-width="0.8"/>
<line x1="439.32" y1="187.3" x2="439.32" y2="188.6" stroke="#2a2a2a" stroke-width="0.8"/>
<line x1="445.6" y1="187.3" x2="445.6" y2="190" stroke="#2a2a2a" stroke-width="0.8"/>
<line x1="451.87" y1="187.3" x2="451.87" y2="188.6" stroke="#2a2a2a" stroke-width="0.8"/>
<line x1="458.14" y1="187.3" x2="458.14" y2="188.6" stroke="#2a2a2a" stroke-width="0.8"/>
<line x1="464.41" y1="187.3" x2="464.41" y2="188.6" stroke="#2a2a2a" stroke-width="0.8"/>
<line x1="296.3" y1="187.3" x2="296.3" y2="190" stroke="#2a2a2a" stroke-width="0.8"/>
<line x1="465.7" y1="187.3" x2="465.7" y2="190" stroke="#2a2a2a" stroke-width="0.8"/>
<text x="297.5" y="200.9" text-anchor="middle" font-size="7.1">124</text>
<text x="320.14" y="200.9" text-anchor="middle" font-size="7.1">200</text>
<text x="351.5" y="200.9" text-anchor="middle" font-size="7.1">300</text>
<text x="382.87" y="200.9" text-anchor="middle" font-size="7.1">400</text>
<text x="414.23" y="200.9" text-anchor="middle" font-size="7.1">500</text>
<text x="445.6" y="200.9" text-anchor="middle" font-size="7.1">600</text>
<text x="465.7" y="200.9" text-anchor="middle" font-size="7.1">664.1</text>
<text x="322.6" y="28.1" text-anchor="middle" font-size="6.8">G1</text>
<text x="381.8" y="28.1" text-anchor="middle" font-size="6.8">G2</text>
<text x="398.1" y="88.3" font-size="6.8">G1: 54.05</text>
<text x="398.1" y="100" font-size="6.8">G2:19.70</text></g>
<g class="h" font-family='"Liberation Sans", sans-serif' fill="#222"><path d="M526.4 188.6 L526.4 188.05 L526.9 186.24 L527.4 183.88 L527.9 181.76 L528.4 180.64 L528.9 179.66 L529.4 176.77 L529.9 173.54 L530.4 171.67 L530.9 170.3 L531.4 166.8 L531.9 164.29 L532.4 165.1 L532.9 167.96 L533.4 171.07 L533.9 173.8 L534.4 175.12 L534.9 175.52 L535.4 175.86 L535.9 175.86 L536.4 175.92 L536.9 176.12 L537.4 176.32 L537.9 176.17 L538.4 175.97 L538.9 176.51 L539.4 176.97 L539.9 177.54 L540.4 178.06 L540.9 178.56 L541.4 179.15 L541.9 179.14 L542.4 179.18 L542.9 178.32 L543.4 177.47 L543.9 179.24 L544.4 180.96 L544.9 180.47 L545.4 179.9 L545.9 179.83 L546.4 179.75 L546.9 181.22 L547.4 182.75 L547.9 181.91 L548.4 181.11 L548.9 180.51 L549.4 179.91 L549.9 182.49 L550.4 185.04 L550.9 184.02 L551.4 182.93 L551.9 182.8 L552.4 182.71 L552.9 183.31 L553.4 183.95 L553.9 183.19 L554.4 182.46 L554.9 183.04 L555.4 183.62 L555.9 184.77 L556.4 185.89 L556.9 184.39 L557.4 182.84 L557.9 182.96 L558.4 183.13 L558.9 183.02 L559.4 182.94 L559.9 182.72 L560.4 182.89 L560.9 183.91 L561.4 184.52 L561.9 184.68 L562.4 184.76 L562.9 184.92 L563.4 185.13 L563.9 185.34 L564.4 185.51 L564.9 185.6 L565.4 185.67 L565.9 185.92 L566.4 186.28 L566.9 186.64 L567.4 186.94 L567.9 187.1 L568.4 187.14 L568.9 187.29 L569.4 187.52 L569.9 187.79 L570.4 188.07 L570.9 188.32 L571.4 188.51 L571.4 188.6 Z" fill="#dcdc7a"/>
<path d="M517.4 188.6 L517.4 188.51 L517.9 188.43 L518.4 188.29 L518.9 188.03 L519.4 187.59 L519.9 186.86 L520.4 185.69 L520.9 183.85 L521.4 181.07 L521.9 177.01 L522.4 171.29 L522.9 163.51 L523.4 153.34 L523.9 140.6 L524.4 125.34 L524.9 107.98 L525.4 89.36 L525.9 70.78 L526.4 53.98 L526.9 41.02 L527.4 34.29 L527.9 35.3 L528.4 41.6 L528.9 53.28 L529.4 69.49 L529.9 88.64 L530.4 108.79 L530.9 128.1 L531.4 145.13 L531.9 159.04 L532.4 169.6 L532.9 177.07 L533.4 182 L533.9 185.05 L534.4 186.8 L534.9 187.74 L535.4 188.22 L535.9 188.44 L536.4 188.54 L536.4 188.6 Z" fill="#82de82"/>
<path d="M557.9 188.6 L557.9 188.53 L558.4 188.5 L558.9 188.46 L559.4 188.41 L559.9 188.33 L560.4 188.24 L560.9 188.12 L561.4 187.96 L561.9 187.76 L562.4 187.52 L562.9 187.22 L563.4 186.87 L563.9 186.44 L564.4 185.95 L564.9 185.38 L565.4 184.74 L565.9 184.03 L566.4 183.25 L566.9 182.42 L567.4 181.55 L567.9 180.65 L568.4 179.75 L568.9 178.87 L569.4 178.03 L569.9 177.26 L570.4 176.58 L570.9 176.02 L571.4 175.59 L571.9 175.32 L572.4 175.2 L572.9 175.24 L573.4 175.42 L573.9 175.72 L574.4 176.13 L574.9 176.66 L575.4 177.27 L575.9 177.97 L576.4 178.71 L576.9 179.5 L577.4 180.31 L577.9 181.12 L578.4 181.92 L578.9 182.69 L579.4 183.43 L579.9 184.12 L580.4 184.75 L580.9 185.33 L581.4 185.85 L581.9 186.31 L582.4 186.71 L582.9 187.06 L583.4 187.36 L583.9 187.6 L584.4 187.81 L584.9 187.98 L585.4 188.12 L585.9 188.23 L586.4 188.32 L586.9 188.39 L587.4 188.44 L587.9 188.48 L588.4 188.51 L588.9 188.54 L588.9 188.6 Z" fill="#80f6f6"/>
<path d="M526.4 188.6 L526.4 188.05 L526.9 186.24 L527.4 183.88 L527.9 181.76 L528.4 180.64 L528.9 179.66 L529.4 176.77 L529.9 173.54 L530.4 171.67 L530.9 170.3 L531.4 166.8 L531.9 164.29 L532.4 169.6 L532.9 177.07 L533.4 182 L533.9 185.05 L534.4 186.8 L534.9 187.74 L535.4 188.22 L535.9 188.44 L536.4 188.54 L536.4 188.6 Z" fill="#5cca48"/>
<path d="M557.9 188.6 L557.9 188.53 L558.4 188.5 L558.9 188.46 L559.4 188.41 L559.9 188.33 L560.4 188.24 L560.9 188.12 L561.4 187.96 L561.9 187.76 L562.4 187.52 L562.9 187.22 L563.4 186.87 L563.9 186.44 L564.4 185.95 L564.9 185.6 L565.4 185.67 L565.9 185.92 L566.4 186.28 L566.9 186.64 L567.4 186.94 L567.9 187.1 L568.4 187.14 L568.9 187.29 L569.4 187.52 L569.9 187.79 L570.4 188.07 L570.9 188.32 L571.4 188.51 L571.4 188.6 Z" fill="#6cdcae"/>
<line x1="527.2" y1="19.5" x2="527.2" y2="188.6" stroke="#2fd02f" stroke-width="1"/>
<line x1="572.5" y1="19.5" x2="572.5" y2="188.6" stroke="#3ff0f0" stroke-width="1.2"/>
<path d="M517.9 188.27 L518.4 188.02 L518.9 187.61 L519.4 186.94 L519.9 185.88 L520.4 184.27 L520.9 181.88 L521.4 178.43 L521.9 173.6 L522.4 167.07 L522.9 158.53 L523.4 147.75 L523.9 134.67 L524.4 119.45 L524.9 102.58 L525.4 84.88 L525.9 67.55 L526.4 52.1 L526.9 40.21 L527.4 33.89 L527.9 34.49 L528.4 39.84 L528.9 50.01 L529.4 63.89 L529.9 80.35 L530.4 98.25 L530.9 115.77 L531.4 130.11 L531.9 141.51 L532.4 151.62 L532.9 160.39 L533.4 167.12 L533.9 171.92 L534.4 174.34 L534.9 175.24 L535.4 175.76 L535.9 175.83 L536.4 175.91 L536.9 176.11 L537.4 176.32 L537.9 176.17 L538.4 175.97 L538.9 176.51 L539.4 176.97 L539.9 177.54 L540.4 178.06 L540.9 178.56 L541.4 179.15 L541.9 179.14 L542.4 179.18 L542.9 178.32 L543.4 177.47 L543.9 179.24 L544.4 180.96 L544.9 180.47 L545.4 179.9 L545.9 179.83 L546.4 179.75 L546.9 181.22 L547.4 182.75 L547.9 181.91 L548.4 181.11 L548.9 180.51 L549.4 179.91 L549.9 182.49 L550.4 185.04 L550.9 184.02 L551.4 182.93 L551.9 182.8 L552.4 182.71 L552.9 183.31 L553.4 183.94 L553.9 183.19 L554.4 182.45 L554.9 183.03 L555.4 183.61 L555.9 184.75 L556.4 185.87 L556.9 184.35 L557.4 182.79 L557.9 182.89 L558.4 183.03 L558.9 182.88 L559.4 182.75 L559.9 182.45 L560.4 182.53 L560.9 183.43 L561.4 183.88 L561.9 183.85 L562.4 183.68 L562.9 183.54 L563.4 183.39 L563.9 183.18 L564.4 182.86 L564.9 182.38 L565.4 181.81 L565.9 181.35 L566.4 180.93 L566.9 180.47 L567.4 179.89 L567.9 179.15 L568.4 178.29 L568.9 177.56 L569.4 176.95 L569.9 176.45 L570.4 176.05 L570.9 175.74 L571.4 175.5 L571.9 175.32 L572.4 175.2 L572.9 175.24 L573.4 175.42 L573.9 175.72 L574.4 176.13 L574.9 176.66 L575.4 177.27 L575.9 177.97 L576.4 178.71 L576.9 179.5 L577.4 180.31 L577.9 181.12 L578.4 181.92 L578.9 182.69 L579.4 183.43 L579.9 184.12 L580.4 184.75 L580.9 185.33 L581.4 185.85 L581.9 186.31 L582.4 186.71 L582.9 187.06 L583.4 187.36 L583.9 187.6 L584.4 187.81 L584.9 187.98 L585.4 188.12 L585.9 188.23 L586.4 188.32 L586.9 188.39" fill="none" stroke="#ff20ff" stroke-width="1.0" stroke-linejoin="round"/>
<path d="M518.4 188.2 L518.9 187.99 L519.4 187.71 L519.9 186.88 L520.4 185.42 L520.9 183.69 L521.4 181.2 L521.9 177.04 L522.4 171.22 L522.9 163.3 L523.4 152.99 L523.9 140.36 L524.4 125.27 L524.9 107.85 L525.4 89.17 L525.9 70.92 L526.4 54.43 L526.9 41.35 L527.4 34.37 L527.9 34.78 L528.4 40.55 L528.9 52.24 L529.4 67.94 L529.9 85.94 L530.4 104.99 L530.9 123.04 L531.4 137.35 L531.9 147 L532.4 155.08 L532.9 162.7 L533.4 168.49 L533.9 172.31 L534.4 174.05 L534.9 175.28 L535.4 176.3 L535.9 176.09 L536.4 175.91 L536.9 176.4 L537.4 176.89 L537.9 176.26 L538.4 175.59 L538.9 175.92 L539.4 176.17 L539.9 177.36 L540.4 178.51 L540.9 178.4 L541.4 178.37 L541.9 178.51 L542.4 178.68 L542.9 178.12 L543.4 177.56 L543.9 179.77 L544.4 181.95 L544.9 180.61 L545.4 179.2 L545.9 179.5 L546.4 179.8 L546.9 181.39 L547.4 183.05 L547.9 181.96 L548.4 180.91 L548.9 180.31 L549.4 179.7 L549.9 182.01 L550.4 184.5 L550.9 183.91 L551.4 183.44 L551.9 182.78 L552.4 182.14 L552.9 182.65 L553.4 183.25 L553.9 182.46 L554.4 181.73 L554.9 182.72 L555.4 183.7 L555.9 184.93 L556.4 186.07 L556.9 184.3 L557.4 182.28 L557.9 182.61 L558.4 182.97 L558.9 182.82 L559.4 182.69 L559.9 182.06 L560.4 181.82 L560.9 183.14 L561.4 184.01 L561.9 184.46 L562.4 184.81 L562.9 184.21 L563.4 183.59 L563.9 183.74 L564.4 183.79 L564.9 182.64 L565.4 181.4 L565.9 181.07 L566.4 180.77 L566.9 180.54 L567.4 180.2 L567.9 179.3 L568.4 178.3 L568.9 177.36 L569.4 176.54 L569.9 176.23 L570.4 176.02 L570.9 175.39 L571.4 174.84 L571.9 175 L572.4 175.23 L572.9 175 L573.4 174.9 L573.9 175.08 L574.4 175.25 L574.9 175.24 L575.4 175.06 L575.9 175.42 L576.4 175.81 L576.9 175.38 L577.4 175.17 L577.9 176.38 L578.4 177.96 L578.9 178.89 L579.4 179.96 L579.9 181.42 L580.4 182.78 L580.9 183.33 L581.4 183.85 L581.9 184.82 L582.4 185.46 L582.9 185.75 L583.4 186.06 L583.9 186.47 L584.4 186.85 L584.9 187.2 L585.4 187.52 L585.9 187.82 L586.4 188.07 L586.9 188.26 L587.4 188.4" fill="none" stroke="rgba(15,15,15,0.8)" stroke-width="0.65" stroke-linejoin="round"/>
<path d="M504.5 19.5 L673.5 19.5 L673.5 188.5 L504.5 188.5 Z" fill="none" stroke="#2a2a2a" stroke-width="1.05"/>
<line x1="501.2" y1="188.6" x2="504.4" y2="188.6" stroke="#2a2a2a" stroke-width="0.8"/>
<line x1="502.9" y1="182.31" x2="504.4" y2="182.31" stroke="#2a2a2a" stroke-width="0.8"/>
<line x1="502.9" y1="176.02" x2="504.4" y2="176.02" stroke="#2a2a2a" stroke-width="0.8"/>
<line x1="502.9" y1="169.72" x2="504.4" y2="169.72" stroke="#2a2a2a" stroke-width="0.8"/>
<line x1="502.9" y1="163.43" x2="504.4" y2="163.43" stroke="#2a2a2a" stroke-width="0.8"/>
<line x1="501.2" y1="157.14" x2="504.4" y2="157.14" stroke="#2a2a2a" stroke-width="0.8"/>
<line x1="502.9" y1="150.85" x2="504.4" y2="150.85" stroke="#2a2a2a" stroke-width="0.8"/>
<line x1="502.9" y1="144.56" x2="504.4" y2="144.56" stroke="#2a2a2a" stroke-width="0.8"/>
<line x1="502.9" y1="138.26" x2="504.4" y2="138.26" stroke="#2a2a2a" stroke-width="0.8"/>
<line x1="502.9" y1="131.97" x2="504.4" y2="131.97" stroke="#2a2a2a" stroke-width="0.8"/>
<line x1="501.2" y1="125.68" x2="504.4" y2="125.68" stroke="#2a2a2a" stroke-width="0.8"/>
<line x1="502.9" y1="119.39" x2="504.4" y2="119.39" stroke="#2a2a2a" stroke-width="0.8"/>
<line x1="502.9" y1="113.09" x2="504.4" y2="113.09" stroke="#2a2a2a" stroke-width="0.8"/>
<line x1="502.9" y1="106.8" x2="504.4" y2="106.8" stroke="#2a2a2a" stroke-width="0.8"/>
<line x1="502.9" y1="100.51" x2="504.4" y2="100.51" stroke="#2a2a2a" stroke-width="0.8"/>
<line x1="501.2" y1="94.22" x2="504.4" y2="94.22" stroke="#2a2a2a" stroke-width="0.8"/>
<line x1="502.9" y1="87.93" x2="504.4" y2="87.93" stroke="#2a2a2a" stroke-width="0.8"/>
<line x1="502.9" y1="81.63" x2="504.4" y2="81.63" stroke="#2a2a2a" stroke-width="0.8"/>
<line x1="502.9" y1="75.34" x2="504.4" y2="75.34" stroke="#2a2a2a" stroke-width="0.8"/>
<line x1="502.9" y1="69.05" x2="504.4" y2="69.05" stroke="#2a2a2a" stroke-width="0.8"/>
<line x1="501.2" y1="62.76" x2="504.4" y2="62.76" stroke="#2a2a2a" stroke-width="0.8"/>
<line x1="502.9" y1="56.47" x2="504.4" y2="56.47" stroke="#2a2a2a" stroke-width="0.8"/>
<line x1="502.9" y1="50.17" x2="504.4" y2="50.17" stroke="#2a2a2a" stroke-width="0.8"/>
<line x1="502.9" y1="43.88" x2="504.4" y2="43.88" stroke="#2a2a2a" stroke-width="0.8"/>
<line x1="502.9" y1="37.59" x2="504.4" y2="37.59" stroke="#2a2a2a" stroke-width="0.8"/>
<line x1="502.9" y1="31.3" x2="504.4" y2="31.3" stroke="#2a2a2a" stroke-width="0.8"/>
<line x1="502.9" y1="25.01" x2="504.4" y2="25.01" stroke="#2a2a2a" stroke-width="0.8"/>
<line x1="501.2" y1="19.5" x2="504.4" y2="19.5" stroke="#2a2a2a" stroke-width="0.8"/>
<text x="497.2" y="188.6" transform="rotate(-90 497.2 188.6)" text-anchor="middle" font-size="6.8">0</text>
<text x="497.2" y="157.14" transform="rotate(-90 497.2 157.14)" text-anchor="middle" font-size="6.8">40</text>
<text x="497.2" y="125.68" transform="rotate(-90 497.2 125.68)" text-anchor="middle" font-size="6.8">80</text>
<text x="497.2" y="94.22" transform="rotate(-90 497.2 94.22)" text-anchor="middle" font-size="6.8">120</text>
<text x="497.2" y="62.76" transform="rotate(-90 497.2 62.76)" text-anchor="middle" font-size="6.8">160</text>
<text x="497.2" y="19.5" transform="rotate(-90 497.2 19.5)" text-anchor="middle" font-size="6.8">215</text>
<line x1="508.56" y1="188.6" x2="508.56" y2="191.3" stroke="#2a2a2a" stroke-width="0.8"/>
<line x1="514.42" y1="188.6" x2="514.42" y2="189.9" stroke="#2a2a2a" stroke-width="0.8"/>
<line x1="520.29" y1="188.6" x2="520.29" y2="189.9" stroke="#2a2a2a" stroke-width="0.8"/>
<line x1="526.15" y1="188.6" x2="526.15" y2="189.9" stroke="#2a2a2a" stroke-width="0.8"/>
<line x1="532.01" y1="188.6" x2="532.01" y2="189.9" stroke="#2a2a2a" stroke-width="0.8"/>
<line x1="537.87" y1="188.6" x2="537.87" y2="191.3" stroke="#2a2a2a" stroke-width="0.8"/>
<line x1="543.73" y1="188.6" x2="543.73" y2="189.9" stroke="#2a2a2a" stroke-width="0.8"/>
<line x1="549.6" y1="188.6" x2="549.6" y2="189.9" stroke="#2a2a2a" stroke-width="0.8"/>
<line x1="555.46" y1="188.6" x2="555.46" y2="189.9" stroke="#2a2a2a" stroke-width="0.8"/>
<line x1="561.32" y1="188.6" x2="561.32" y2="189.9" stroke="#2a2a2a" stroke-width="0.8"/>
<line x1="567.18" y1="188.6" x2="567.18" y2="191.3" stroke="#2a2a2a" stroke-width="0.8"/>
<line x1="573.04" y1="188.6" x2="573.04" y2="189.9" stroke="#2a2a2a" stroke-width="0.8"/>
<line x1="578.91" y1="188.6" x2="578.91" y2="189.9" stroke="#2a2a2a" stroke-width="0.8"/>
<line x1="584.77" y1="188.6" x2="584.77" y2="189.9" stroke="#2a2a2a" stroke-width="0.8"/>
<line x1="590.63" y1="188.6" x2="590.63" y2="189.9" stroke="#2a2a2a" stroke-width="0.8"/>
<line x1="596.49" y1="188.6" x2="596.49" y2="191.3" stroke="#2a2a2a" stroke-width="0.8"/>
<line x1="602.35" y1="188.6" x2="602.35" y2="189.9" stroke="#2a2a2a" stroke-width="0.8"/>
<line x1="608.22" y1="188.6" x2="608.22" y2="189.9" stroke="#2a2a2a" stroke-width="0.8"/>
<line x1="614.08" y1="188.6" x2="614.08" y2="189.9" stroke="#2a2a2a" stroke-width="0.8"/>
<line x1="619.94" y1="188.6" x2="619.94" y2="189.9" stroke="#2a2a2a" stroke-width="0.8"/>
<line x1="625.8" y1="188.6" x2="625.8" y2="191.3" stroke="#2a2a2a" stroke-width="0.8"/>
<line x1="631.66" y1="188.6" x2="631.66" y2="189.9" stroke="#2a2a2a" stroke-width="0.8"/>
<line x1="637.53" y1="188.6" x2="637.53" y2="189.9" stroke="#2a2a2a" stroke-width="0.8"/>
<line x1="643.39" y1="188.6" x2="643.39" y2="189.9" stroke="#2a2a2a" stroke-width="0.8"/>
<line x1="649.25" y1="188.6" x2="649.25" y2="189.9" stroke="#2a2a2a" stroke-width="0.8"/>
<line x1="655.11" y1="188.6" x2="655.11" y2="191.3" stroke="#2a2a2a" stroke-width="0.8"/>
<line x1="660.97" y1="188.6" x2="660.97" y2="189.9" stroke="#2a2a2a" stroke-width="0.8"/>
<line x1="666.84" y1="188.6" x2="666.84" y2="189.9" stroke="#2a2a2a" stroke-width="0.8"/>
<line x1="672.7" y1="188.6" x2="672.7" y2="189.9" stroke="#2a2a2a" stroke-width="0.8"/>
<line x1="504.4" y1="188.6" x2="504.4" y2="191.3" stroke="#2a2a2a" stroke-width="0.8"/>
<line x1="673.9" y1="188.6" x2="673.9" y2="191.3" stroke="#2a2a2a" stroke-width="0.8"/>
<text x="505.6" y="202.2" text-anchor="middle" font-size="7.1">85.8</text>
<text x="537.87" y="202.2" text-anchor="middle" font-size="7.1">200</text>
<text x="567.18" y="202.2" text-anchor="middle" font-size="7.1">300</text>
<text x="596.49" y="202.2" text-anchor="middle" font-size="7.1">400</text>
<text x="625.8" y="202.2" text-anchor="middle" font-size="7.1">500</text>
<text x="673.9" y="202.2" text-anchor="middle" font-size="7.1">664.1</text>
<text x="528.2" y="29.1" text-anchor="middle" font-size="6.8">G1</text>
<text x="573.5" y="29.1" text-anchor="middle" font-size="6.8">G2</text>
<text x="593.9" y="96.8" font-size="6.8">G1: 64.97</text>
<text x="593.9" y="108.6" font-size="6.8">G2: 10.17</text></g>
<g class="h" font-family='"Liberation Sans", sans-serif' fill="#222"><path d="M109.1 395.8 L109.1 394.64 L109.6 392.52 L110.1 390.16 L110.6 388.35 L111.1 387.75 L111.6 386.34 L112.1 383.53 L112.6 380.1 L113.1 376.82 L113.6 374.48 L114.1 373.73 L114.6 371.7 L115.1 367.67 L115.6 362.83 L116.1 358.34 L116.6 355.37 L117.1 354.81 L117.6 354.95 L118.1 355.17 L118.6 355.43 L119.1 355.46 L119.6 355.82 L120.1 355.58 L120.6 356.05 L121.1 360.6 L121.6 365.75 L122.1 366.63 L122.6 366.46 L123.1 365.37 L123.6 364.3 L124.1 365.33 L124.6 366.39 L125.1 366.01 L125.6 365.64 L126.1 366.15 L126.6 366.65 L127.1 368.14 L127.6 369.6 L128.1 367.8 L128.6 365.95 L129.1 367.56 L129.6 369.11 L130.1 365.75 L130.6 362.34 L131.1 364.99 L131.6 367.64 L132.1 366.01 L132.6 364.4 L133.1 365.08 L133.6 365.82 L134.1 364.65 L134.6 363.45 L135.1 365.19 L135.6 366.89 L136.1 364.79 L136.6 362.68 L137.1 363.88 L137.6 365.13 L138.1 363.44 L138.6 361.89 L139.1 362.91 L139.6 364.01 L140.1 364.96 L140.6 365.9 L141.1 367.31 L141.6 368.62 L142.1 366.83 L142.6 365.38 L143.1 366.61 L143.6 368.14 L144.1 368.03 L144.6 367.89 L145.1 371.38 L145.6 374.51 L146.1 373.58 L146.6 372.35 L147.1 372.15 L147.6 371.88 L148.1 371.78 L148.6 371.68 L149.1 371.47 L149.6 371.36 L150.1 371.33 L150.6 371.42 L151.1 372.48 L151.6 373.59 L152.1 374.27 L152.6 374.95 L153.1 374.36 L153.6 373.72 L154.1 372.58 L154.6 371.8 L155.1 371.62 L155.6 372.46 L156.1 374.59 L156.6 376.14 L157.1 376.82 L157.6 377.42 L158.1 378.63 L158.6 380.1 L159.1 381.5 L159.6 382.51 L160.1 382.82 L160.6 383.32 L161.1 384.32 L161.6 385.55 L162.1 386.72 L162.6 387.56 L163.1 387.81 L163.6 388.22 L164.1 389.02 L164.6 390 L165.1 390.94 L165.6 391.61 L166.1 391.8 L166.6 391.96 L167.1 392.3 L167.6 392.77 L168.1 393.32 L168.6 393.92 L169.1 394.51 L169.6 395.03 L170.1 395.46 L170.6 395.73 L170.6 395.8 Z" fill="#dcdc7a"/>
<path d="M96.1 395.8 L96.1 395.72 L96.6 395.67 L97.1 395.59 L97.6 395.47 L98.1 395.28 L98.6 395 L99.1 394.58 L99.6 393.97 L100.1 393.1 L100.6 391.88 L101.1 390.2 L101.6 387.92 L102.1 384.89 L102.6 380.95 L103.1 375.92 L103.6 369.64 L104.1 361.98 L104.6 352.85 L105.1 342.22 L105.6 330.18 L106.1 316.94 L106.6 302.85 L107.1 288.4 L107.6 274.24 L108.1 261.16 L108.6 250.03 L109.1 241.82 L109.6 237.67 L110.1 237.92 L110.6 240.01 L111.1 244.05 L111.6 250.06 L112.1 257.94 L112.6 267.43 L113.1 278.23 L113.6 289.92 L114.1 302.11 L114.6 314.36 L115.1 326.29 L115.6 337.56 L116.1 347.93 L116.6 357.2 L117.1 365.28 L117.6 372.14 L118.1 377.82 L118.6 382.42 L119.1 386.04 L119.6 388.83 L120.1 390.92 L120.6 392.46 L121.1 393.56 L121.6 394.33 L122.1 394.86 L122.6 395.21 L123.1 395.44 L123.6 395.58 L124.1 395.67 L124.6 395.73 L124.6 395.8 Z" fill="#82de82"/>
<path d="M144.6 395.8 L144.6 395.75 L145.1 395.73 L145.6 395.71 L146.1 395.69 L146.6 395.66 L147.1 395.62 L147.6 395.57 L148.1 395.51 L148.6 395.44 L149.1 395.35 L149.6 395.25 L150.1 395.12 L150.6 394.97 L151.1 394.78 L151.6 394.57 L152.1 394.32 L152.6 394.02 L153.1 393.67 L153.6 393.28 L154.1 392.82 L154.6 392.29 L155.1 391.7 L155.6 391.03 L156.1 390.28 L156.6 389.44 L157.1 388.51 L157.6 387.49 L158.1 386.37 L158.6 385.16 L159.1 383.85 L159.6 382.46 L160.1 380.97 L160.6 379.4 L161.1 377.76 L161.6 376.05 L162.1 374.3 L162.6 372.5 L163.1 370.69 L163.6 368.87 L164.1 367.07 L164.6 365.3 L165.1 363.59 L165.6 361.96 L166.1 360.42 L166.6 359 L167.1 357.72 L167.6 356.6 L168.1 355.65 L168.6 354.88 L169.1 354.32 L169.6 353.95 L170.1 353.8 L170.6 353.85 L171.1 354.04 L171.6 354.38 L172.1 354.86 L172.6 355.48 L173.1 356.23 L173.6 357.1 L174.1 358.09 L174.6 359.18 L175.1 360.37 L175.6 361.64 L176.1 362.98 L176.6 364.38 L177.1 365.83 L177.6 367.31 L178.1 368.81 L178.6 370.33 L179.1 371.84 L179.6 373.34 L180.1 374.83 L180.6 376.28 L181.1 377.7 L181.6 379.08 L182.1 380.4 L182.6 381.67 L183.1 382.88 L183.6 384.03 L184.1 385.12 L184.6 386.14 L185.1 387.09 L185.6 387.98 L186.1 388.8 L186.6 389.56 L187.1 390.25 L187.6 390.89 L188.1 391.46 L188.6 391.99 L189.1 392.46 L189.6 392.88 L190.1 393.26 L190.6 393.6 L191.1 393.9 L191.6 394.16 L192.1 394.4 L192.6 394.6 L193.1 394.78 L193.6 394.93 L194.1 395.07 L194.6 395.18 L195.1 395.28 L195.6 395.37 L196.1 395.44 L196.6 395.5 L197.1 395.55 L197.6 395.59 L198.1 395.63 L198.6 395.66 L199.1 395.69 L199.6 395.71 L200.1 395.73 L200.6 395.74 L200.6 395.8 Z" fill="#80f6f6"/>
<path d="M109.1 395.8 L109.1 394.64 L109.6 392.52 L110.1 390.16 L110.6 388.35 L111.1 387.75 L111.6 386.34 L112.1 383.53 L112.6 380.1 L113.1 376.82 L113.6 374.48 L114.1 373.73 L114.6 371.7 L115.1 367.67 L115.6 362.83 L116.1 358.34 L116.6 357.2 L117.1 365.28 L117.6 372.14 L118.1 377.82 L118.6 382.42 L119.1 386.04 L119.6 388.83 L120.1 390.92 L120.6 392.46 L121.1 393.56 L121.6 394.33 L122.1 394.86 L122.6 395.21 L123.1 395.44 L123.6 395.58 L124.1 395.67 L124.6 395.73 L124.6 395.8 Z" fill="#5cca48"/>
<path d="M144.6 395.8 L144.6 395.75 L145.1 395.73 L145.6 395.71 L146.1 395.69 L146.6 395.66 L147.1 395.62 L147.6 395.57 L148.1 395.51 L148.6 395.44 L149.1 395.35 L149.6 395.25 L150.1 395.12 L150.6 394.97 L151.1 394.78 L151.6 394.57 L152.1 394.32 L152.6 394.02 L153.1 393.67 L153.6 393.28 L154.1 392.82 L154.6 392.29 L155.1 391.7 L155.6 391.03 L156.1 390.28 L156.6 389.44 L157.1 388.51 L157.6 387.49 L158.1 386.37 L158.6 385.16 L159.1 383.85 L159.6 382.51 L160.1 382.82 L160.6 383.32 L161.1 384.32 L161.6 385.55 L162.1 386.72 L162.6 387.56 L163.1 387.81 L163.6 388.22 L164.1 389.02 L164.6 390 L165.1 390.94 L165.6 391.61 L166.1 391.8 L166.6 391.96 L167.1 392.3 L167.6 392.77 L168.1 393.32 L168.6 393.92 L169.1 394.51 L169.6 395.03 L170.1 395.46 L170.6 395.73 L170.6 395.8 Z" fill="#6cdcae"/>
<line x1="109.4" y1="222.9" x2="109.4" y2="395.8" stroke="#2fd02f" stroke-width="1"/>
<line x1="170" y1="222.9" x2="170" y2="395.8" stroke="#3ff0f0" stroke-width="1.2"/>
<path d="M96.6 395.54 L97.1 395.4 L97.6 395.19 L98.1 394.89 L98.6 394.45 L99.1 393.82 L99.6 392.95 L100.1 391.76 L100.6 390.14 L101.1 387.98 L101.6 385.17 L102.1 381.56 L102.6 377 L103.1 371.36 L103.6 364.51 L104.1 356.37 L104.6 346.89 L105.1 336.12 L105.6 324.17 L106.1 311.28 L106.6 297.79 L107.1 284.17 L107.6 271 L108.1 258.97 L108.6 248.83 L109.1 241.39 L109.6 237.62 L110.1 237.77 L110.6 239.53 L111.1 243.06 L111.6 248.3 L112.1 255.09 L112.6 263.22 L113.1 272.47 L113.6 282.65 L114.1 293.59 L114.6 304.34 L115.1 314.06 L115.6 322.31 L116.1 329.02 L116.6 334.75 L117.1 340.44 L117.6 345.27 L118.1 348.94 L118.6 351.59 L119.1 353.21 L119.6 354.55 L120.1 354.9 L120.6 355.69 L121.1 360.41 L121.6 365.64 L122.1 366.57 L122.6 366.43 L123.1 365.36 L123.6 364.3 L124.1 365.33 L124.6 366.39 L125.1 366.01 L125.6 365.64 L126.1 366.15 L126.6 366.65 L127.1 368.14 L127.6 369.6 L128.1 367.8 L128.6 365.95 L129.1 367.56 L129.6 369.11 L130.1 365.75 L130.6 362.34 L131.1 364.99 L131.6 367.64 L132.1 366.01 L132.6 364.4 L133.1 365.08 L133.6 365.82 L134.1 364.65 L134.6 363.45 L135.1 365.19 L135.6 366.89 L136.1 364.79 L136.6 362.68 L137.1 363.88 L137.6 365.12 L138.1 363.44 L138.6 361.89 L139.1 362.9 L139.6 364 L140.1 364.95 L140.6 365.89 L141.1 367.3 L141.6 368.61 L142.1 366.81 L142.6 365.36 L143.1 366.59 L143.6 368.11 L144.1 367.99 L144.6 367.83 L145.1 371.31 L145.6 374.42 L146.1 373.47 L146.6 372.2 L147.1 371.97 L147.6 371.65 L148.1 371.49 L148.6 371.32 L149.1 371.02 L149.6 370.8 L150.1 370.65 L150.6 370.59 L151.1 371.47 L151.6 372.36 L152.1 372.79 L152.6 373.17 L153.1 372.24 L153.6 371.2 L154.1 369.6 L154.6 368.29 L155.1 367.52 L155.6 367.69 L156.1 369.04 L156.6 369.62 L157.1 369.24 L157.6 368.7 L158.1 368.66 L158.6 368.79 L159.1 368.77 L159.6 368.26 L160.1 366.96 L160.6 365.79 L161.1 365.04 L161.6 364.46 L162.1 363.78 L162.6 362.74 L163.1 361.1 L163.6 359.61 L164.1 358.54 L164.6 357.7 L165.1 356.87 L165.6 355.86 L166.1 354.49 L166.6 353.2 L167.1 352.23 L167.6 351.57 L168.1 351.17 L168.6 351.01 L169.1 351.04 L169.6 351.23 L170.1 351.54 L170.6 351.89 L171.1 352.2 L171.6 352.6 L172.1 353.14 L172.6 353.83 L173.1 354.66 L173.6 355.62 L174.1 356.7 L174.6 357.89 L175.1 359.17 L175.6 360.55 L176.1 362 L176.6 363.52 L177.1 365.09 L177.6 366.69 L178.1 368.32 L178.6 369.96 L179.1 371.61 L179.6 373.24 L180.1 374.83 L180.6 376.28 L181.1 377.7 L181.6 379.08 L182.1 380.4 L182.6 381.67 L183.1 382.88 L183.6 384.03 L184.1 385.12 L184.6 386.14 L185.1 387.09 L185.6 387.98 L186.1 388.8 L186.6 389.56 L187.1 390.25 L187.6 390.89 L188.1 391.46 L188.6 391.99 L189.1 392.46 L189.6 392.88 L190.1 393.26 L190.6 393.6 L191.1 393.9 L191.6 394.16 L192.1 394.4 L192.6 394.6 L193.1 394.78 L193.6 394.93 L194.1 395.07 L194.6 395.18 L195.1 395.28 L195.6 395.37 L196.1 395.44 L196.6 395.5 L197.1 395.55 L197.6 395.59" fill="none" stroke="#ff20ff" stroke-width="1.0" stroke-linejoin="round"/>
<path d="M97.6 395.51 L98.1 395.36 L98.6 395.14 L99.1 394.65 L99.6 393.85 L100.1 392.82 L100.6 391.32 L101.1 389.63 L101.6 387.5 L102.1 384.34 L102.6 380.28 L103.1 375.52 L103.6 369.52 L104.1 362.1 L104.6 353.21 L105.1 342.38 L105.6 330.16 L106.1 316.98 L106.6 302.96 L107.1 288.62 L107.6 274.58 L108.1 261.58 L108.6 250.54 L109.1 242.3 L109.6 238.08 L110.1 238.05 L110.6 239.83 L111.1 243.81 L111.6 249.71 L112.1 257.44 L112.6 266.62 L113.1 276.56 L113.6 287.37 L114.1 299.3 L114.6 310.81 L115.1 320.7 L115.6 328.71 L116.1 334.74 L116.6 339.29 L117.1 344.6 L117.6 349 L118.1 352.07 L118.6 354.25 L119.1 354.6 L119.6 354.84 L120.1 355.26 L120.6 356.25 L121.1 360.38 L121.6 365.06 L122.1 366.2 L122.6 366.28 L123.1 365.03 L123.6 363.8 L124.1 364.89 L124.6 366.01 L125.1 366.34 L125.6 366.68 L126.1 366.49 L126.6 366.29 L127.1 368.13 L127.6 369.94 L128.1 368.16 L128.6 366.33 L129.1 367.86 L129.6 369.33 L130.1 365.66 L130.6 361.96 L131.1 364.58 L131.6 367.2 L132.1 365.54 L132.6 363.9 L133.1 365.25 L133.6 366.65 L134.1 365.21 L134.6 363.75 L135.1 365.94 L135.6 368.08 L136.1 365.41 L136.6 362.74 L137.1 363.75 L137.6 364.82 L138.1 363.48 L138.6 362.27 L139.1 363.03 L139.6 363.88 L140.1 364.83 L140.6 365.78 L141.1 366.99 L141.6 368.1 L142.1 366.77 L142.6 365.78 L143.1 367 L143.6 368.52 L144.1 368.39 L144.6 368.22 L145.1 371.06 L145.6 373.55 L146.1 372.76 L146.6 371.66 L147.1 371.73 L147.6 371.71 L148.1 371.46 L148.6 371.21 L149.1 370.94 L149.6 370.75 L150.1 370.57 L150.6 370.49 L151.1 371.47 L151.6 372.46 L152.1 372.92 L152.6 373.34 L153.1 372.64 L153.6 371.83 L154.1 370.07 L154.6 368.61 L155.1 367.27 L155.6 366.86 L156.1 368.52 L156.6 369.51 L157.1 369.38 L157.6 369.08 L158.1 369.35 L158.6 369.89 L159.1 369.71 L159.6 369.04 L160.1 367.57 L160.6 366.21 L161.1 366.57 L161.6 367.09 L162.1 365.67 L162.6 363.87 L163.1 362.27 L163.6 360.81 L164.1 360.8 L164.6 361 L165.1 360.26 L165.6 359.34 L166.1 358.21 L166.6 357.16 L167.1 356.28 L167.6 355.69 L168.1 353.35 L168.6 351.22 L169.1 354.49 L169.6 357.91 L170.1 356.09 L170.6 354.31 L171.1 354.92 L171.6 355.6 L172.1 356.09 L172.6 356.72 L173.1 356.75 L173.6 356.91 L174.1 356.87 L174.6 356.93 L175.1 359.17 L175.6 361.49 L176.1 363.05 L176.6 364.66 L177.1 366.58 L177.6 368.53 L178.1 369.55 L178.6 370.58 L179.1 371.06 L179.6 371.52 L180.1 374.31 L180.6 377.07 L181.1 379.24 L181.6 381.37 L182.1 382.81 L182.6 384.2 L183.1 385.25 L183.6 386.25 L184.1 387.61 L184.6 388.92 L185.1 387.38 L185.6 385.78 L186.1 387.34 L186.6 388.84 L187.1 390.13 L187.6 391.35 L188.1 390.4 L188.6 389.76 L189.1 391.92 L189.6 393.65 L190.1 393.21 L190.6 392.94 L191.1 393.31 L191.6 393.64 L192.1 394.61 L192.6 395.34 L193.1 395.41 L193.6 395.47 L194.1 395.43 L194.6 395.41 L195.1 395.28 L195.6 395.33 L196.1 395.4 L196.6 395.46 L197.1 395.55" fill="none" stroke="rgba(15,15,15,0.8)" stroke-width="0.65" stroke-linejoin="round"/>
<path d="M82.5 222.5 L256.5 222.5 L256.5 395.5 L82.5 395.5 Z" fill="none" stroke="#2a2a2a" stroke-width="1.05"/>
<line x1="79.4" y1="395.8" x2="82.6" y2="395.8" stroke="#2a2a2a" stroke-width="0.8"/>
<line x1="81.1" y1="388.52" x2="82.6" y2="388.52" stroke="#2a2a2a" stroke-width="0.8"/>
<line x1="81.1" y1="381.24" x2="82.6" y2="381.24" stroke="#2a2a2a" stroke-width="0.8"/>
<line x1="81.1" y1="373.96" x2="82.6" y2="373.96" stroke="#2a2a2a" stroke-width="0.8"/>
<line x1="81.1" y1="366.68" x2="82.6" y2="366.68" stroke="#2a2a2a" stroke-width="0.8"/>
<line x1="79.4" y1="359.4" x2="82.6" y2="359.4" stroke="#2a2a2a" stroke-width="0.8"/>
<line x1="81.1" y1="352.12" x2="82.6" y2="352.12" stroke="#2a2a2a" stroke-width="0.8"/>
<line x1="81.1" y1="344.84" x2="82.6" y2="344.84" stroke="#2a2a2a" stroke-width="0.8"/>
<line x1="81.1" y1="337.56" x2="82.6" y2="337.56" stroke="#2a2a2a" stroke-width="0.8"/>
<line x1="81.1" y1="330.28" x2="82.6" y2="330.28" stroke="#2a2a2a" stroke-width="0.8"/>
<line x1="79.4" y1="323" x2="82.6" y2="323" stroke="#2a2a2a" stroke-width="0.8"/>
<line x1="81.1" y1="315.72" x2="82.6" y2="315.72" stroke="#2a2a2a" stroke-width="0.8"/>
<line x1="81.1" y1="308.44" x2="82.6" y2="308.44" stroke="#2a2a2a" stroke-width="0.8"/>
<line x1="81.1" y1="301.16" x2="82.6" y2="301.16" stroke="#2a2a2a" stroke-width="0.8"/>
<line x1="81.1" y1="293.88" x2="82.6" y2="293.88" stroke="#2a2a2a" stroke-width="0.8"/>
<line x1="79.4" y1="286.6" x2="82.6" y2="286.6" stroke="#2a2a2a" stroke-width="0.8"/>
<line x1="81.1" y1="279.32" x2="82.6" y2="279.32" stroke="#2a2a2a" stroke-width="0.8"/>
<line x1="81.1" y1="272.04" x2="82.6" y2="272.04" stroke="#2a2a2a" stroke-width="0.8"/>
<line x1="81.1" y1="264.76" x2="82.6" y2="264.76" stroke="#2a2a2a" stroke-width="0.8"/>
<line x1="81.1" y1="257.48" x2="82.6" y2="257.48" stroke="#2a2a2a" stroke-width="0.8"/>
<line x1="79.4" y1="250.2" x2="82.6" y2="250.2" stroke="#2a2a2a" stroke-width="0.8"/>
<line x1="81.1" y1="242.92" x2="82.6" y2="242.92" stroke="#2a2a2a" stroke-width="0.8"/>
<line x1="81.1" y1="235.64" x2="82.6" y2="235.64" stroke="#2a2a2a" stroke-width="0.8"/>
<line x1="81.1" y1="228.36" x2="82.6" y2="228.36" stroke="#2a2a2a" stroke-width="0.8"/>
<line x1="79.4" y1="222.9" x2="82.6" y2="222.9" stroke="#2a2a2a" stroke-width="0.8"/>
<text x="75.4" y="395.8" transform="rotate(-90 75.4 395.8)" text-anchor="middle" font-size="6.8">0</text>
<text x="75.4" y="359.4" transform="rotate(-90 75.4 359.4)" text-anchor="middle" font-size="6.8">40</text>
<text x="75.4" y="323" transform="rotate(-90 75.4 323)" text-anchor="middle" font-size="6.8">80</text>
<text x="75.4" y="286.6" transform="rotate(-90 75.4 286.6)" text-anchor="middle" font-size="6.8">120</text>
<text x="75.4" y="250.2" transform="rotate(-90 75.4 250.2)" text-anchor="middle" font-size="6.8">160</text>
<text x="75.4" y="222.9" transform="rotate(-90 75.4 222.9)" text-anchor="middle" font-size="6.8">190</text>
<line x1="87.74" y1="395.8" x2="87.74" y2="397.1" stroke="#2a2a2a" stroke-width="0.8"/>
<line x1="94.17" y1="395.8" x2="94.17" y2="397.1" stroke="#2a2a2a" stroke-width="0.8"/>
<line x1="100.6" y1="395.8" x2="100.6" y2="397.1" stroke="#2a2a2a" stroke-width="0.8"/>
<line x1="107.03" y1="395.8" x2="107.03" y2="398.5" stroke="#2a2a2a" stroke-width="0.8"/>
<line x1="113.46" y1="395.8" x2="113.46" y2="397.1" stroke="#2a2a2a" stroke-width="0.8"/>
<line x1="119.88" y1="395.8" x2="119.88" y2="397.1" stroke="#2a2a2a" stroke-width="0.8"/>
<line x1="126.31" y1="395.8" x2="126.31" y2="397.1" stroke="#2a2a2a" stroke-width="0.8"/>
<line x1="132.74" y1="395.8" x2="132.74" y2="397.1" stroke="#2a2a2a" stroke-width="0.8"/>
<line x1="139.17" y1="395.8" x2="139.17" y2="398.5" stroke="#2a2a2a" stroke-width="0.8"/>
<line x1="145.6" y1="395.8" x2="145.6" y2="397.1" stroke="#2a2a2a" stroke-width="0.8"/>
<line x1="152.03" y1="395.8" x2="152.03" y2="397.1" stroke="#2a2a2a" stroke-width="0.8"/>
<line x1="158.46" y1="395.8" x2="158.46" y2="397.1" stroke="#2a2a2a" stroke-width="0.8"/>
<line x1="164.88" y1="395.8" x2="164.88" y2="397.1" stroke="#2a2a2a" stroke-width="0.8"/>
<line x1="171.31" y1="395.8" x2="171.31" y2="398.5" stroke="#2a2a2a" stroke-width="0.8"/>
<line x1="177.74" y1="395.8" x2="177.74" y2="397.1" stroke="#2a2a2a" stroke-width="0.8"/>
<line x1="184.17" y1="395.8" x2="184.17" y2="397.1" stroke="#2a2a2a" stroke-width="0.8"/>
<line x1="190.6" y1="395.8" x2="190.6" y2="397.1" stroke="#2a2a2a" stroke-width="0.8"/>
<line x1="197.03" y1="395.8" x2="197.03" y2="397.1" stroke="#2a2a2a" stroke-width="0.8"/>
<line x1="203.45" y1="395.8" x2="203.45" y2="398.5" stroke="#2a2a2a" stroke-width="0.8"/>
<line x1="209.88" y1="395.8" x2="209.88" y2="397.1" stroke="#2a2a2a" stroke-width="0.8"/>
<line x1="216.31" y1="395.8" x2="216.31" y2="397.1" stroke="#2a2a2a" stroke-width="0.8"/>
<line x1="222.74" y1="395.8" x2="222.74" y2="397.1" stroke="#2a2a2a" stroke-width="0.8"/>
<line x1="229.17" y1="395.8" x2="229.17" y2="397.1" stroke="#2a2a2a" stroke-width="0.8"/>
<line x1="235.6" y1="395.8" x2="235.6" y2="398.5" stroke="#2a2a2a" stroke-width="0.8"/>
<line x1="242.03" y1="395.8" x2="242.03" y2="397.1" stroke="#2a2a2a" stroke-width="0.8"/>
<line x1="248.45" y1="395.8" x2="248.45" y2="397.1" stroke="#2a2a2a" stroke-width="0.8"/>
<line x1="254.88" y1="395.8" x2="254.88" y2="397.1" stroke="#2a2a2a" stroke-width="0.8"/>
<line x1="82.6" y1="395.8" x2="82.6" y2="398.5" stroke="#2a2a2a" stroke-width="0.8"/>
<line x1="256.2" y1="395.8" x2="256.2" y2="398.5" stroke="#2a2a2a" stroke-width="0.8"/>
<text x="83.8" y="409.4" text-anchor="middle" font-size="7.1">124</text>
<text x="107.03" y="409.4" text-anchor="middle" font-size="7.1">200</text>
<text x="139.17" y="409.4" text-anchor="middle" font-size="7.1">300</text>
<text x="171.31" y="409.4" text-anchor="middle" font-size="7.1">400</text>
<text x="203.45" y="409.4" text-anchor="middle" font-size="7.1">500</text>
<text x="235.6" y="409.4" text-anchor="middle" font-size="7.1">600</text>
<text x="256.2" y="409.4" text-anchor="middle" font-size="7.1">664.1</text>
<text x="110.4" y="232.5" text-anchor="middle" font-size="6.8">G1</text>
<text x="171" y="232.5" text-anchor="middle" font-size="6.8">G2</text>
<text x="189.6" y="302.7" font-size="6.8">G1: 37.42</text>
<text x="189.6" y="314.7" font-size="6.8">G2: 22.50</text></g>
<g class="h" font-family='"Liberation Sans", sans-serif' fill="#222"><path d="M322.4 395.1 L322.4 394.71 L322.9 393.37 L323.4 391.5 L323.9 389.54 L324.4 387.93 L324.9 387.13 L325.4 386.57 L325.9 384.72 L326.4 382.15 L326.9 379.45 L327.4 377.24 L327.9 376.14 L328.4 375.35 L328.9 372.85 L329.4 369.61 L329.9 366.7 L330.4 365.15 L330.9 365.31 L331.4 365.93 L331.9 366.45 L332.4 366.81 L332.9 366.65 L333.4 368.87 L333.9 370.91 L334.4 367.29 L334.9 363.66 L335.4 364.92 L335.9 366.38 L336.4 367.83 L336.9 369.37 L337.4 368.54 L337.9 367.76 L338.4 366.47 L338.9 365.19 L339.4 365.33 L339.9 365.44 L340.4 367.35 L340.9 369.2 L341.4 368.47 L341.9 367.75 L342.4 367.92 L342.9 368.27 L343.4 368.1 L343.9 368 L344.4 369.94 L344.9 371.85 L345.4 371.39 L345.9 370.81 L346.4 373.1 L346.9 375.18 L347.4 375.04 L347.9 374.99 L348.4 373.77 L348.9 372.61 L349.4 372.84 L349.9 373.09 L350.4 374.18 L350.9 375.26 L351.4 374.86 L351.9 374.42 L352.4 374.97 L352.9 375.44 L353.4 374.74 L353.9 373.66 L354.4 372.49 L354.9 371.19 L355.4 370.91 L355.9 370.74 L356.4 369.81 L356.9 369.21 L357.4 370.48 L357.9 371.86 L358.4 372.26 L358.9 372.7 L359.4 374.8 L359.9 376.88 L360.4 374.26 L360.9 371.53 L361.4 372 L361.9 372.69 L362.4 372.64 L362.9 372.67 L363.4 375.68 L363.9 378.63 L364.4 377.59 L364.9 376.35 L365.4 376.4 L365.9 376.38 L366.4 377.49 L366.9 378.58 L367.4 375.63 L367.9 372.7 L368.4 372.26 L368.9 371.88 L369.4 374.4 L369.9 376.86 L370.4 374.86 L370.9 373.63 L371.4 373.42 L371.9 373.91 L372.4 374.44 L372.9 375.58 L373.4 377.05 L373.9 378.37 L374.4 379.08 L374.9 379.65 L375.4 381.46 L375.9 383.82 L376.4 385.94 L376.9 387.06 L377.4 387.34 L377.9 388.18 L378.4 389.35 L378.9 390.58 L379.4 391.58 L379.9 392.08 L380.4 392.18 L380.9 392.49 L381.4 392.95 L381.9 393.49 L382.4 394.04 L382.9 394.54 L383.4 394.92 L383.4 395.1 Z" fill="#dcdc7a"/>
<path d="M308.4 395.1 L308.4 395.04 L308.9 395 L309.4 394.95 L309.9 394.86 L310.4 394.74 L310.9 394.55 L311.4 394.28 L311.9 393.9 L312.4 393.35 L312.9 392.59 L313.4 391.55 L313.9 390.15 L314.4 388.29 L314.9 385.85 L315.4 382.71 L315.9 378.74 L316.4 373.81 L316.9 367.78 L317.4 360.56 L317.9 352.08 L318.4 342.32 L318.9 331.34 L319.4 319.27 L319.9 306.37 L320.4 292.98 L320.9 279.55 L321.4 266.64 L321.9 254.91 L322.4 245.06 L322.9 237.87 L323.4 234.25 L323.9 235.05 L324.4 238.85 L324.9 245.36 L325.4 254.22 L325.9 264.99 L326.4 277.14 L326.9 290.11 L327.4 303.36 L327.9 316.42 L328.4 328.85 L328.9 340.34 L329.4 350.66 L329.9 359.7 L330.4 367.42 L330.9 373.85 L331.4 379.09 L331.9 383.25 L332.4 386.5 L332.9 388.97 L333.4 390.81 L333.9 392.15 L334.4 393.11 L334.9 393.78 L335.4 394.24 L335.9 394.55 L336.4 394.76 L336.9 394.89 L337.4 394.97 L337.9 395.02 L337.9 395.1 Z" fill="#82de82"/>
<path d="M363.4 395.1 L363.4 395.05 L363.9 395.03 L364.4 395 L364.9 394.96 L365.4 394.9 L365.9 394.82 L366.4 394.72 L366.9 394.58 L367.4 394.41 L367.9 394.18 L368.4 393.9 L368.9 393.53 L369.4 393.08 L369.9 392.53 L370.4 391.85 L370.9 391.04 L371.4 390.08 L371.9 388.95 L372.4 387.64 L372.9 386.14 L373.4 384.44 L373.9 382.56 L374.4 380.48 L374.9 378.24 L375.4 375.84 L375.9 373.32 L376.4 370.71 L376.9 368.06 L377.4 365.43 L377.9 362.86 L378.4 360.42 L378.9 358.17 L379.4 356.16 L379.9 354.44 L380.4 353.08 L380.9 352.1 L381.4 351.54 L381.9 351.41 L382.4 351.6 L382.9 352.06 L383.4 352.79 L383.9 353.76 L384.4 354.97 L384.9 356.38 L385.4 357.98 L385.9 359.74 L386.4 361.63 L386.9 363.61 L387.4 365.66 L387.9 367.75 L388.4 369.86 L388.9 371.94 L389.4 373.99 L389.9 375.98 L390.4 377.89 L390.9 379.7 L391.4 381.41 L391.9 383.01 L392.4 384.49 L392.9 385.84 L393.4 387.08 L393.9 388.19 L394.4 389.19 L394.9 390.07 L395.4 390.85 L395.9 391.53 L396.4 392.12 L396.9 392.63 L397.4 393.06 L397.9 393.43 L398.4 393.74 L398.9 394 L399.4 394.22 L399.9 394.4 L400.4 394.54 L400.9 394.66 L401.4 394.75 L401.9 394.83 L402.4 394.89 L402.9 394.94 L403.4 394.98 L403.9 395.01 L404.4 395.03 L404.9 395.05 L404.9 395.1 Z" fill="#80f6f6"/>
<path d="M322.4 395.1 L322.4 394.71 L322.9 393.37 L323.4 391.5 L323.9 389.54 L324.4 387.93 L324.9 387.13 L325.4 386.57 L325.9 384.72 L326.4 382.15 L326.9 379.45 L327.4 377.24 L327.9 376.14 L328.4 375.35 L328.9 372.85 L329.4 369.61 L329.9 366.7 L330.4 367.42 L330.9 373.85 L331.4 379.09 L331.9 383.25 L332.4 386.5 L332.9 388.97 L333.4 390.81 L333.9 392.15 L334.4 393.11 L334.9 393.78 L335.4 394.24 L335.9 394.55 L336.4 394.76 L336.9 394.89 L337.4 394.97 L337.9 395.02 L337.9 395.1 Z" fill="#5cca48"/>
<path d="M363.4 395.1 L363.4 395.05 L363.9 395.03 L364.4 395 L364.9 394.96 L365.4 394.9 L365.9 394.82 L366.4 394.72 L366.9 394.58 L367.4 394.41 L367.9 394.18 L368.4 393.9 L368.9 393.53 L369.4 393.08 L369.9 392.53 L370.4 391.85 L370.9 391.04 L371.4 390.08 L371.9 388.95 L372.4 387.64 L372.9 386.14 L373.4 384.44 L373.9 382.56 L374.4 380.48 L374.9 379.65 L375.4 381.46 L375.9 383.82 L376.4 385.94 L376.9 387.06 L377.4 387.34 L377.9 388.18 L378.4 389.35 L378.9 390.58 L379.4 391.58 L379.9 392.08 L380.4 392.18 L380.9 392.49 L381.4 392.95 L381.9 393.49 L382.4 394.04 L382.9 394.54 L383.4 394.92 L383.4 395.1 Z" fill="#6cdcae"/>
<line x1="323.3" y1="221.3" x2="323.3" y2="395.1" stroke="#2fd02f" stroke-width="1"/>
<line x1="381.7" y1="221.3" x2="381.7" y2="395.1" stroke="#3ff0f0" stroke-width="1.2"/>
<path d="M308.9 394.9 L309.4 394.79 L309.9 394.65 L310.4 394.43 L310.9 394.13 L311.4 393.72 L311.9 393.14 L312.4 392.36 L312.9 391.3 L313.4 389.91 L313.9 388.1 L314.4 385.77 L314.9 382.81 L315.4 379.11 L315.9 374.56 L316.4 369.06 L316.9 362.51 L317.4 354.84 L317.9 346.04 L318.4 336.12 L318.9 325.18 L319.4 313.37 L319.9 300.95 L320.4 288.24 L320.9 275.67 L321.4 263.72 L321.9 252.97 L322.4 244 L322.9 237.42 L323.4 234.01 L323.9 234.48 L324.4 237.63 L324.9 243.31 L325.4 251.16 L325.9 260.51 L326.4 270.93 L326.9 282.04 L327.4 293.53 L327.9 305.23 L328.4 316.54 L328.9 326.15 L329.4 333.99 L329.9 340.36 L330.4 346.05 L330.9 351.61 L331.4 356.36 L331.9 359.98 L332.4 362.59 L332.9 364.01 L333.4 367.18 L333.9 369.87 L334.4 366.74 L334.9 363.37 L335.4 364.76 L335.9 366.3 L336.4 367.79 L336.9 369.35 L337.4 368.53 L337.9 367.76 L338.4 366.47 L338.9 365.19 L339.4 365.33 L339.9 365.44 L340.4 367.35 L340.9 369.2 L341.4 368.47 L341.9 367.75 L342.4 367.92 L342.9 368.27 L343.4 368.1 L343.9 368 L344.4 369.94 L344.9 371.85 L345.4 371.39 L345.9 370.81 L346.4 373.1 L346.9 375.18 L347.4 375.04 L347.9 374.99 L348.4 373.77 L348.9 372.61 L349.4 372.84 L349.9 373.09 L350.4 374.18 L350.9 375.26 L351.4 374.86 L351.9 374.42 L352.4 374.97 L352.9 375.44 L353.4 374.74 L353.9 373.66 L354.4 372.49 L354.9 371.19 L355.4 370.91 L355.9 370.74 L356.4 369.81 L356.9 369.21 L357.4 370.47 L357.9 371.86 L358.4 372.26 L358.9 372.7 L359.4 374.8 L359.9 376.88 L360.4 374.25 L360.9 371.52 L361.4 371.99 L361.9 372.67 L362.4 372.61 L362.9 372.64 L363.4 375.63 L363.9 378.55 L364.4 377.49 L364.9 376.21 L365.4 376.2 L365.9 376.1 L366.4 376.87 L366.9 377.52 L367.4 374.1 L367.9 370.65 L368.4 369.63 L368.9 368.62 L369.4 370.42 L369.9 372.08 L370.4 369.19 L370.9 366.92 L371.4 365.56 L371.9 364.76 L372.4 363.83 L372.9 363.35 L373.4 363.03 L373.9 362.4 L374.4 360.98 L374.9 359.29 L375.4 358.71 L375.9 358.58 L376.4 358.15 L376.9 356.72 L377.4 354.48 L377.9 352.88 L378.4 351.77 L378.9 350.92 L379.4 350.12 L379.9 349.13 L380.4 348.11 L380.9 347.69 L381.4 347.85 L381.9 348.54 L382.4 349.58 L382.9 350.84 L383.4 352.24 L383.9 353.69 L384.4 354.97 L384.9 356.38 L385.4 357.98 L385.9 359.74 L386.4 361.63 L386.9 363.61 L387.4 365.66 L387.9 367.75 L388.4 369.86 L388.9 371.94 L389.4 373.99 L389.9 375.98 L390.4 377.89 L390.9 379.7 L391.4 381.41 L391.9 383.01 L392.4 384.49 L392.9 385.84 L393.4 387.08 L393.9 388.19 L394.4 389.19 L394.9 390.07 L395.4 390.85 L395.9 391.53 L396.4 392.12 L396.9 392.63 L397.4 393.06 L397.9 393.43 L398.4 393.74 L398.9 394 L399.4 394.22 L399.9 394.4 L400.4 394.54 L400.9 394.66 L401.4 394.75 L401.9 394.83 L402.4 394.89" fill="none" stroke="#ff20ff" stroke-width="1.0" stroke-linejoin="round"/>
<path d="M309.9 394.85 L310.4 394.75 L310.9 394.61 L311.4 394.36 L311.9 393.99 L312.4 393.21 L312.9 391.98 L313.4 391.14 L313.9 390.21 L314.4 388.22 L314.9 385.65 L315.4 382.55 L315.9 378.63 L316.4 373.73 L316.9 367.74 L317.4 360.56 L317.9 352.12 L318.4 342.46 L318.9 331.48 L319.4 319.41 L319.9 306.5 L320.4 293.33 L320.9 280.14 L321.4 266.67 L321.9 254.37 L322.4 244.78 L322.9 237.8 L323.4 234.21 L323.9 234.96 L324.4 238.24 L324.9 244.31 L325.4 253.02 L325.9 263.33 L326.4 275.08 L326.9 287.43 L327.4 299.51 L327.9 311.59 L328.4 322.84 L328.9 332.07 L329.4 339.42 L329.9 345.39 L330.4 350.34 L330.9 355.14 L331.4 358.96 L331.9 361.71 L332.4 363.97 L332.9 365.16 L333.4 368.02 L333.9 370.49 L334.4 366.65 L334.9 362.66 L335.4 364.44 L335.9 366.39 L336.4 367.83 L336.9 369.35 L337.4 368.34 L337.9 367.38 L338.4 366.24 L338.9 365.12 L339.4 365.58 L339.9 366.02 L340.4 367.13 L340.9 368.18 L341.4 367.95 L341.9 367.73 L342.4 367.42 L342.9 367.3 L343.4 367.45 L343.9 367.69 L344.4 369.98 L344.9 372.27 L345.4 371.17 L345.9 369.96 L346.4 372.69 L346.9 375.21 L347.4 375.25 L347.9 375.37 L348.4 373.95 L348.9 372.57 L349.4 373.34 L349.9 374.13 L350.4 374.57 L350.9 375 L351.4 374.89 L351.9 374.74 L352.4 375.17 L352.9 375.52 L353.4 374.97 L353.9 374.06 L354.4 372.49 L354.9 370.79 L355.4 370.6 L355.9 370.5 L356.4 369.38 L356.9 368.6 L357.4 369.72 L357.9 370.96 L358.4 371.71 L358.9 372.5 L359.4 374.65 L359.9 376.78 L360.4 374.1 L360.9 371.31 L361.4 372.07 L361.9 373.04 L362.4 372.91 L362.9 372.86 L363.4 375.52 L363.9 378.11 L364.4 377.46 L364.9 376.59 L365.4 376.87 L365.9 377.04 L366.4 377.65 L366.9 378.2 L367.4 374.91 L367.9 371.6 L368.4 370.56 L368.9 369.51 L369.4 372.13 L369.9 374.6 L370.4 372.95 L370.9 371.1 L371.4 368.98 L371.9 367.39 L372.4 366.84 L372.9 366.71 L373.4 366.11 L373.9 365.18 L374.4 364.52 L374.9 363.55 L375.4 362.3 L375.9 361.48 L376.4 361.71 L376.9 360.91 L377.4 357.11 L377.9 353.94 L378.4 352.08 L378.9 350.26 L379.4 347.81 L379.9 345.54 L380.4 344.87 L380.9 345.27 L381.4 346.7 L381.9 349.06 L382.4 349.82 L382.9 350.98 L383.4 352.46 L383.9 353.67 L384.4 353.82 L384.9 354.17 L385.4 355.9 L385.9 357.78 L386.4 360.58 L386.9 363.49 L387.4 365.55 L387.9 367.65 L388.4 370.62 L388.9 373.58 L389.4 374.76 L389.9 375.87 L390.4 377.55 L390.9 379.13 L391.4 381.42 L391.9 383.59 L392.4 385.65 L392.9 387.48 L393.4 386.33 L393.9 385.01 L394.4 387.74 L394.9 390.35 L395.4 388.61 L395.9 387.48 L396.4 388.54 L396.9 389.47 L397.4 389.97 L397.9 390.43 L398.4 391.54 L398.9 392.33 L399.4 392.26 L399.9 392.27 L400.4 392.63 L400.9 392.81 L401.4 392.9 L401.9 392.97 L402.4 393.06 L402.9 393.13 L403.4 393.17 L403.9 393.2 L404.4 393.23 L404.9 393.25 L405.4 393.26 L405.9 393.28 L406.4 393.31 L406.9 393.34 L407.4 393.38 L407.9 393.41 L408.4 393.46 L408.9 393.5 L409.4 393.54 L409.9 393.59 L410.4 393.63 L410.9 393.68 L411.4 393.72 L411.9 393.76 L412.4 393.8 L412.9 393.83 L413.4 393.86 L413.9 393.88 L414.4 393.89 L414.9 393.9 L415.4 393.91 L415.9 393.96 L416.4 394.03 L416.9 394.13 L417.4 394.23 L417.9 394.33 L418.4 394.43 L418.9 394.51 L419.4 394.57 L419.9 394.6 L420.4 394.61 L420.9 394.64 L421.4 394.7 L421.9 394.76 L422.4 394.84" fill="none" stroke="rgba(15,15,15,0.8)" stroke-width="0.65" stroke-linejoin="round"/>
<path d="M296.5 221.5 L471.5 221.5 L471.5 395.5 L296.5 395.5 Z" fill="none" stroke="#2a2a2a" stroke-width="1.05"/>
<line x1="293.7" y1="395.1" x2="296.9" y2="395.1" stroke="#2a2a2a" stroke-width="0.8"/>
<line x1="295.4" y1="387.62" x2="296.9" y2="387.62" stroke="#2a2a2a" stroke-width="0.8"/>
<line x1="295.4" y1="380.15" x2="296.9" y2="380.15" stroke="#2a2a2a" stroke-width="0.8"/>
<line x1="295.4" y1="372.67" x2="296.9" y2="372.67" stroke="#2a2a2a" stroke-width="0.8"/>
<line x1="295.4" y1="365.2" x2="296.9" y2="365.2" stroke="#2a2a2a" stroke-width="0.8"/>
<line x1="293.7" y1="357.72" x2="296.9" y2="357.72" stroke="#2a2a2a" stroke-width="0.8"/>
<line x1="295.4" y1="350.25" x2="296.9" y2="350.25" stroke="#2a2a2a" stroke-width="0.8"/>
<line x1="295.4" y1="342.77" x2="296.9" y2="342.77" stroke="#2a2a2a" stroke-width="0.8"/>
<line x1="295.4" y1="335.3" x2="296.9" y2="335.3" stroke="#2a2a2a" stroke-width="0.8"/>
<line x1="295.4" y1="327.82" x2="296.9" y2="327.82" stroke="#2a2a2a" stroke-width="0.8"/>
<line x1="293.7" y1="320.35" x2="296.9" y2="320.35" stroke="#2a2a2a" stroke-width="0.8"/>
<line x1="295.4" y1="312.87" x2="296.9" y2="312.87" stroke="#2a2a2a" stroke-width="0.8"/>
<line x1="295.4" y1="305.4" x2="296.9" y2="305.4" stroke="#2a2a2a" stroke-width="0.8"/>
<line x1="295.4" y1="297.92" x2="296.9" y2="297.92" stroke="#2a2a2a" stroke-width="0.8"/>
<line x1="295.4" y1="290.45" x2="296.9" y2="290.45" stroke="#2a2a2a" stroke-width="0.8"/>
<line x1="293.7" y1="282.97" x2="296.9" y2="282.97" stroke="#2a2a2a" stroke-width="0.8"/>
<line x1="295.4" y1="275.5" x2="296.9" y2="275.5" stroke="#2a2a2a" stroke-width="0.8"/>
<line x1="295.4" y1="268.02" x2="296.9" y2="268.02" stroke="#2a2a2a" stroke-width="0.8"/>
<line x1="295.4" y1="260.55" x2="296.9" y2="260.55" stroke="#2a2a2a" stroke-width="0.8"/>
<line x1="295.4" y1="253.07" x2="296.9" y2="253.07" stroke="#2a2a2a" stroke-width="0.8"/>
<line x1="293.7" y1="245.59" x2="296.9" y2="245.59" stroke="#2a2a2a" stroke-width="0.8"/>
<line x1="295.4" y1="238.12" x2="296.9" y2="238.12" stroke="#2a2a2a" stroke-width="0.8"/>
<line x1="295.4" y1="230.64" x2="296.9" y2="230.64" stroke="#2a2a2a" stroke-width="0.8"/>
<line x1="295.4" y1="223.17" x2="296.9" y2="223.17" stroke="#2a2a2a" stroke-width="0.8"/>
<line x1="293.7" y1="221.3" x2="296.9" y2="221.3" stroke="#2a2a2a" stroke-width="0.8"/>
<text x="289.7" y="395.1" transform="rotate(-90 289.7 395.1)" text-anchor="middle" font-size="6.8">0</text>
<text x="289.7" y="357.72" transform="rotate(-90 289.7 357.72)" text-anchor="middle" font-size="6.8">40</text>
<text x="289.7" y="320.35" transform="rotate(-90 289.7 320.35)" text-anchor="middle" font-size="6.8">80</text>
<text x="289.7" y="282.97" transform="rotate(-90 289.7 282.97)" text-anchor="middle" font-size="6.8">120</text>
<text x="289.7" y="245.59" transform="rotate(-90 289.7 245.59)" text-anchor="middle" font-size="6.8">160</text>
<text x="289.7" y="221.3" transform="rotate(-90 289.7 221.3)" text-anchor="middle" font-size="6.8">186</text>
<line x1="302.07" y1="395.1" x2="302.07" y2="396.4" stroke="#2a2a2a" stroke-width="0.8"/>
<line x1="308.53" y1="395.1" x2="308.53" y2="396.4" stroke="#2a2a2a" stroke-width="0.8"/>
<line x1="314.99" y1="395.1" x2="314.99" y2="396.4" stroke="#2a2a2a" stroke-width="0.8"/>
<line x1="321.45" y1="395.1" x2="321.45" y2="397.8" stroke="#2a2a2a" stroke-width="0.8"/>
<line x1="327.92" y1="395.1" x2="327.92" y2="396.4" stroke="#2a2a2a" stroke-width="0.8"/>
<line x1="334.38" y1="395.1" x2="334.38" y2="396.4" stroke="#2a2a2a" stroke-width="0.8"/>
<line x1="340.84" y1="395.1" x2="340.84" y2="396.4" stroke="#2a2a2a" stroke-width="0.8"/>
<line x1="347.3" y1="395.1" x2="347.3" y2="396.4" stroke="#2a2a2a" stroke-width="0.8"/>
<line x1="353.76" y1="395.1" x2="353.76" y2="397.8" stroke="#2a2a2a" stroke-width="0.8"/>
<line x1="360.23" y1="395.1" x2="360.23" y2="396.4" stroke="#2a2a2a" stroke-width="0.8"/>
<line x1="366.69" y1="395.1" x2="366.69" y2="396.4" stroke="#2a2a2a" stroke-width="0.8"/>
<line x1="373.15" y1="395.1" x2="373.15" y2="396.4" stroke="#2a2a2a" stroke-width="0.8"/>
<line x1="379.61" y1="395.1" x2="379.61" y2="396.4" stroke="#2a2a2a" stroke-width="0.8"/>
<line x1="386.07" y1="395.1" x2="386.07" y2="397.8" stroke="#2a2a2a" stroke-width="0.8"/>
<line x1="392.53" y1="395.1" x2="392.53" y2="396.4" stroke="#2a2a2a" stroke-width="0.8"/>
<line x1="399" y1="395.1" x2="399" y2="396.4" stroke="#2a2a2a" stroke-width="0.8"/>
<line x1="405.46" y1="395.1" x2="405.46" y2="396.4" stroke="#2a2a2a" stroke-width="0.8"/>
<line x1="411.92" y1="395.1" x2="411.92" y2="396.4" stroke="#2a2a2a" stroke-width="0.8"/>
<line x1="418.38" y1="395.1" x2="418.38" y2="397.8" stroke="#2a2a2a" stroke-width="0.8"/>
<line x1="424.84" y1="395.1" x2="424.84" y2="396.4" stroke="#2a2a2a" stroke-width="0.8"/>
<line x1="431.3" y1="395.1" x2="431.3" y2="396.4" stroke="#2a2a2a" stroke-width="0.8"/>
<line x1="437.77" y1="395.1" x2="437.77" y2="396.4" stroke="#2a2a2a" stroke-width="0.8"/>
<line x1="444.23" y1="395.1" x2="444.23" y2="396.4" stroke="#2a2a2a" stroke-width="0.8"/>
<line x1="450.69" y1="395.1" x2="450.69" y2="397.8" stroke="#2a2a2a" stroke-width="0.8"/>
<line x1="457.15" y1="395.1" x2="457.15" y2="396.4" stroke="#2a2a2a" stroke-width="0.8"/>
<line x1="463.61" y1="395.1" x2="463.61" y2="396.4" stroke="#2a2a2a" stroke-width="0.8"/>
<line x1="470.08" y1="395.1" x2="470.08" y2="396.4" stroke="#2a2a2a" stroke-width="0.8"/>
<line x1="296.9" y1="395.1" x2="296.9" y2="397.8" stroke="#2a2a2a" stroke-width="0.8"/>
<line x1="471.4" y1="395.1" x2="471.4" y2="397.8" stroke="#2a2a2a" stroke-width="0.8"/>
<text x="298.1" y="408.7" text-anchor="middle" font-size="7.1">124</text>
<text x="321.45" y="408.7" text-anchor="middle" font-size="7.1">200</text>
<text x="353.76" y="408.7" text-anchor="middle" font-size="7.1">300</text>
<text x="386.07" y="408.7" text-anchor="middle" font-size="7.1">400</text>
<text x="418.38" y="408.7" text-anchor="middle" font-size="7.1">500</text>
<text x="450.69" y="408.7" text-anchor="middle" font-size="7.1">600</text>
<text x="471.4" y="408.7" text-anchor="middle" font-size="7.1">664.1</text>
<text x="324.3" y="230.9" text-anchor="middle" font-size="6.8">G1</text>
<text x="382.7" y="230.9" text-anchor="middle" font-size="6.8">G2</text>
<text x="404.8" y="301.8" font-size="6.8">G1: 40.96</text>
<text x="404.8" y="313.8" font-size="6.8">G2: 17.12</text></g>
<g class="h" font-family='"Liberation Sans", sans-serif' fill="#222"><path d="M525.9 394.3 L525.9 393.89 L526.4 392.53 L526.9 390.76 L527.4 389.17 L527.9 388.33 L528.4 387.47 L528.9 384.9 L529.4 382.03 L529.9 380.36 L530.4 378.49 L530.9 374.11 L531.4 372.31 L531.9 372.76 L532.4 373.65 L532.9 374.72 L533.4 375.89 L533.9 375.96 L534.4 374.65 L534.9 374.8 L535.4 375.79 L535.9 379.35 L536.4 383 L536.9 381.23 L537.4 379.39 L537.9 379.5 L538.4 379.38 L538.9 379.28 L539.4 379.38 L539.9 380.19 L540.4 381.12 L540.9 383.66 L541.4 386.18 L541.9 384.75 L542.4 383.17 L542.9 383.9 L543.4 384.51 L543.9 383.72 L544.4 383.04 L544.9 384.08 L545.4 385.17 L545.9 386.96 L546.4 388.75 L546.9 386.85 L547.4 384.9 L547.9 387.27 L548.4 389.54 L548.9 388 L549.4 386.41 L549.9 386.88 L550.4 387.35 L550.9 388.03 L551.4 388.71 L551.9 389.88 L552.4 391.06 L552.9 390.1 L553.4 389.14 L553.9 389.18 L554.4 389.21 L554.9 388.71 L555.4 388.21 L555.9 388.23 L556.4 388.24 L556.9 386.94 L557.4 385.62 L557.9 386.36 L558.4 387.08 L558.9 386.45 L559.4 385.82 L559.9 387.3 L560.4 388.78 L560.9 388.18 L561.4 387.58 L561.9 386.56 L562.4 385.55 L562.9 385.47 L563.4 385.41 L563.9 385.61 L564.4 385.79 L564.9 386.54 L565.4 387.29 L565.9 387.67 L566.4 388.05 L566.9 386.07 L567.4 384.09 L567.9 385.76 L568.4 387.43 L568.9 387.2 L569.4 386.97 L569.9 385.48 L570.4 383.84 L570.9 384.45 L571.4 385.02 L571.9 385.05 L572.4 385.14 L572.9 383.81 L573.4 382.63 L573.9 383.32 L574.4 383.99 L574.9 382.86 L575.4 381.71 L575.9 382.59 L576.4 383.46 L576.9 383.65 L577.4 383.77 L577.9 383.83 L578.4 384.48 L578.9 385.01 L579.4 385.29 L579.9 385.64 L580.4 386.78 L580.9 388.25 L581.4 389.57 L581.9 390.28 L582.4 390.41 L582.9 390.82 L583.4 391.43 L583.9 392.15 L584.4 392.89 L584.9 393.56 L585.4 394.06 L585.4 394.3 Z" fill="#dcdc7a"/>
<path d="M515.9 394.3 L515.9 394.21 L516.4 394.14 L516.9 394 L517.4 393.78 L517.9 393.4 L518.4 392.78 L518.9 391.81 L519.4 390.32 L519.9 388.08 L520.4 384.85 L520.9 380.29 L521.4 374.09 L521.9 365.93 L522.4 355.56 L522.9 342.87 L523.4 327.99 L523.9 311.32 L524.4 293.63 L524.9 276.05 L525.4 260.04 L525.9 247.34 L526.4 239.9 L526.9 240.95 L527.4 250.07 L527.9 264.22 L528.4 281.34 L528.9 299.62 L529.4 317.57 L529.9 334.1 L530.4 348.53 L530.9 360.54 L531.4 370.13 L531.9 377.49 L532.4 382.94 L532.9 386.83 L533.4 389.53 L533.9 391.33 L534.4 392.5 L534.9 393.24 L535.4 393.69 L535.9 393.96 L536.4 394.11 L536.9 394.2 L537.4 394.25 L537.4 394.3 Z" fill="#82de82"/>
<path d="M572.9 394.3 L572.9 394.24 L573.4 394.2 L573.9 394.15 L574.4 394.06 L574.9 393.94 L575.4 393.77 L575.9 393.53 L576.4 393.2 L576.9 392.75 L577.4 392.18 L577.9 391.43 L578.4 390.51 L578.9 389.38 L579.4 388.04 L579.9 386.49 L580.4 384.73 L580.9 382.81 L581.4 380.76 L581.9 378.65 L582.4 376.56 L582.9 374.58 L583.4 372.79 L583.9 371.29 L584.4 370.15 L584.9 369.44 L585.4 369.2 L585.9 369.42 L586.4 370.05 L586.9 371.08 L587.4 372.45 L587.9 374.08 L588.4 375.92 L588.9 377.88 L589.4 379.88 L589.9 381.85 L590.4 383.74 L590.9 385.49 L591.4 387.08 L591.9 388.49 L592.4 389.7 L592.9 390.72 L593.4 391.56 L593.9 392.24 L594.4 392.78 L594.9 393.2 L595.4 393.51 L595.9 393.75 L596.4 393.92 L596.9 394.04 L597.4 394.13 L597.9 394.19 L598.4 394.23 L598.4 394.3 Z" fill="#80f6f6"/>
<path d="M525.9 394.3 L525.9 393.89 L526.4 392.53 L526.9 390.76 L527.4 389.17 L527.9 388.33 L528.4 387.47 L528.9 384.9 L529.4 382.03 L529.9 380.36 L530.4 378.49 L530.9 374.11 L531.4 372.31 L531.9 377.49 L532.4 382.94 L532.9 386.83 L533.4 389.53 L533.9 391.33 L534.4 392.5 L534.9 393.24 L535.4 393.69 L535.9 393.96 L536.4 394.11 L536.9 394.2 L537.4 394.25 L537.4 394.3 Z" fill="#5cca48"/>
<path d="M572.9 394.3 L572.9 394.24 L573.4 394.2 L573.9 394.15 L574.4 394.06 L574.9 393.94 L575.4 393.77 L575.9 393.53 L576.4 393.2 L576.9 392.75 L577.4 392.18 L577.9 391.43 L578.4 390.51 L578.9 389.38 L579.4 388.04 L579.9 386.49 L580.4 386.78 L580.9 388.25 L581.4 389.57 L581.9 390.28 L582.4 390.41 L582.9 390.82 L583.4 391.43 L583.9 392.15 L584.4 392.89 L584.9 393.56 L585.4 394.06 L585.4 394.3 Z" fill="#6cdcae"/>
<line x1="526.5" y1="223.1" x2="526.5" y2="394.3" stroke="#2fd02f" stroke-width="1"/>
<line x1="585.4" y1="223.1" x2="585.4" y2="394.3" stroke="#3ff0f0" stroke-width="1.2"/>
<path d="M516.4 393.98 L516.9 393.75 L517.4 393.38 L517.9 392.8 L518.4 391.9 L518.9 390.55 L519.4 388.56 L519.9 385.74 L520.4 381.81 L520.9 376.5 L521.4 369.54 L521.9 360.7 L522.4 349.81 L522.9 336.89 L523.4 322.13 L523.9 305.98 L524.4 289.19 L524.9 272.8 L525.4 258.08 L525.9 246.52 L526.4 239.73 L526.9 240.53 L527.4 248.57 L527.9 261.32 L528.4 276.92 L528.9 293.41 L529.4 309.56 L529.9 324.77 L530.4 337.88 L530.9 347.01 L531.4 354.69 L531.9 361.52 L532.4 366.79 L532.9 370.72 L533.4 373.66 L533.9 374.81 L534.4 374.11 L534.9 374.55 L535.4 375.67 L535.9 379.29 L536.4 382.97 L536.9 381.22 L537.4 379.39 L537.9 379.5 L538.4 379.38 L538.9 379.28 L539.4 379.38 L539.9 380.19 L540.4 381.12 L540.9 383.66 L541.4 386.18 L541.9 384.75 L542.4 383.17 L542.9 383.9 L543.4 384.51 L543.9 383.72 L544.4 383.04 L544.9 384.08 L545.4 385.17 L545.9 386.96 L546.4 388.75 L546.9 386.85 L547.4 384.9 L547.9 387.27 L548.4 389.54 L548.9 388 L549.4 386.41 L549.9 386.88 L550.4 387.35 L550.9 388.03 L551.4 388.71 L551.9 389.88 L552.4 391.06 L552.9 390.1 L553.4 389.14 L553.9 389.18 L554.4 389.21 L554.9 388.71 L555.4 388.21 L555.9 388.23 L556.4 388.24 L556.9 386.94 L557.4 385.62 L557.9 386.36 L558.4 387.08 L558.9 386.45 L559.4 385.82 L559.9 387.3 L560.4 388.78 L560.9 388.18 L561.4 387.58 L561.9 386.56 L562.4 385.55 L562.9 385.47 L563.4 385.41 L563.9 385.61 L564.4 385.79 L564.9 386.54 L565.4 387.29 L565.9 387.67 L566.4 388.05 L566.9 386.07 L567.4 384.09 L567.9 385.76 L568.4 387.43 L568.9 387.2 L569.4 386.97 L569.9 385.47 L570.4 383.83 L570.9 384.44 L571.4 385 L571.9 385.03 L572.4 385.1 L572.9 383.75 L573.4 382.53 L573.9 383.17 L574.4 383.75 L574.9 382.5 L575.4 381.18 L575.9 381.81 L576.4 382.36 L576.9 382.1 L577.4 381.65 L577.9 380.97 L578.4 380.53 L578.9 379.74 L579.4 378.49 L579.9 377.11 L580.4 376.33 L580.9 375.72 L581.4 374.87 L581.9 373.35 L582.4 371.3 L582.9 369.66 L583.4 368.43 L583.9 367.64 L584.4 367.25 L584.9 367.24 L585.4 367.56 L585.9 368.09 L586.4 368.84 L586.9 369.99 L587.4 371.5 L587.9 373.3 L588.4 375.31 L588.9 377.45 L589.4 379.64 L589.9 381.81 L590.4 383.74 L590.9 385.49 L591.4 387.08 L591.9 388.49 L592.4 389.7 L592.9 390.72 L593.4 391.56 L593.9 392.24 L594.4 392.78 L594.9 393.2 L595.4 393.51 L595.9 393.75 L596.4 393.92 L596.9 394.04" fill="none" stroke="#ff20ff" stroke-width="1.0" stroke-linejoin="round"/>
<path d="M516.9 393.98 L517.4 393.77 L517.9 393.44 L518.4 392.92 L518.9 391.75 L519.4 389.75 L519.9 387.7 L520.4 384.78 L520.9 380.32 L521.4 374.21 L521.9 366.01 L522.4 355.61 L522.9 343.1 L523.4 328.24 L523.9 311.5 L524.4 293.75 L524.9 275.99 L525.4 259.8 L525.9 247.32 L526.4 240.04 L526.9 240.86 L527.4 249.69 L527.9 263.78 L528.4 280.79 L528.9 298.27 L529.4 315.03 L529.9 330.45 L530.4 343.2 L530.9 351.64 L531.4 358.42 L531.9 364.56 L532.4 369.18 L532.9 372.49 L533.4 374.98 L533.9 375.47 L534.4 374.23 L534.9 374.39 L535.4 375.28 L535.9 378.94 L536.4 382.66 L536.9 380.36 L537.4 377.98 L537.9 378.76 L538.4 379.31 L538.9 379.38 L539.4 379.65 L539.9 380.4 L540.4 381.26 L540.9 383.47 L541.4 385.67 L541.9 384.73 L542.4 383.65 L542.9 384.19 L543.4 384.59 L543.9 384.18 L544.4 383.88 L544.9 384.56 L545.4 385.3 L545.9 386.84 L546.4 388.38 L546.9 386.4 L547.4 384.37 L547.9 386.85 L548.4 389.24 L548.9 387.57 L549.4 385.88 L549.9 386.8 L550.4 387.72 L550.9 387.8 L551.4 387.89 L551.9 389.12 L552.4 390.46 L552.9 390.07 L553.4 389.99 L553.9 389.89 L554.4 389.79 L554.9 388.81 L555.4 387.83 L555.9 387.84 L556.4 387.85 L556.9 386.4 L557.4 384.93 L557.9 385.97 L558.4 386.99 L558.9 386.67 L559.4 386.34 L559.9 387.74 L560.4 389.15 L560.9 387.98 L561.4 386.82 L561.9 386.18 L562.4 385.55 L562.9 385.92 L563.4 386.31 L563.9 386.1 L564.4 385.88 L564.9 386.41 L565.4 386.93 L565.9 387.49 L566.4 388.05 L566.9 385.91 L567.4 383.77 L567.9 385.47 L568.4 387.17 L568.9 387.07 L569.4 386.96 L569.9 385.73 L570.4 384.36 L570.9 384.7 L571.4 384.98 L571.9 384.83 L572.4 384.72 L572.9 383.72 L573.4 382.84 L573.9 383.05 L574.4 383.2 L574.9 381.71 L575.4 380.16 L575.9 381.1 L576.4 381.95 L576.9 381.8 L577.4 381.44 L577.9 380.85 L578.4 380.6 L578.9 380.57 L579.4 380.08 L579.9 377.39 L580.4 375.28 L580.9 376.01 L581.4 376.48 L581.9 375.28 L582.4 373.53 L582.9 370.41 L583.4 367.68 L583.9 367.38 L584.4 367.47 L584.9 368.4 L585.4 369.64 L585.9 369.57 L586.4 369.71 L586.9 370.69 L587.4 372.01 L587.9 373.34 L588.4 374.88 L588.9 378.5 L589.4 382.16 L589.9 383.58 L590.4 384.91 L590.9 386.93 L591.4 388.79 L591.9 389.22 L592.4 389.46 L592.9 390.85 L593.4 391.84 L593.9 391.98 L594.4 392.14 L594.9 392.26 L595.4 392.39 L595.9 392.7 L596.4 392.91 L596.9 393.05 L597.4 393.17 L597.9 393.2 L598.4 393.23 L598.9 393.25 L599.4 393.27 L599.9 393.29 L600.4 393.29 L600.9 393.29 L601.4 393.3 L601.9 393.3 L602.4 393.3 L602.9 393.3 L603.4 393.3 L603.9 393.3 L604.4 393.3 L604.9 393.3 L605.4 393.3 L605.9 393.3 L606.4 393.3 L606.9 393.3 L607.4 393.3 L607.9 393.3 L608.4 393.3 L608.9 393.3 L609.4 393.3 L609.9 393.3 L610.4 393.3 L610.9 393.3 L611.4 393.31 L611.9 393.31 L612.4 393.32 L612.9 393.33 L613.4 393.34 L613.9 393.35 L614.4 393.36 L614.9 393.38 L615.4 393.39 L615.9 393.4 L616.4 393.42 L616.9 393.43 L617.4 393.45 L617.9 393.46 L618.4 393.48 L618.9 393.49 L619.4 393.51 L619.9 393.52 L620.4 393.53 L620.9 393.55 L621.4 393.56 L621.9 393.57 L622.4 393.58 L622.9 393.58 L623.4 393.59 L623.9 393.6 L624.4 393.6 L624.9 393.6 L625.4 393.61 L625.9 393.66 L626.4 393.73 L626.9 393.83 L627.4 393.93 L627.9 394.03" fill="none" stroke="rgba(15,15,15,0.8)" stroke-width="0.65" stroke-linejoin="round"/>
<path d="M504.5 223.5 L676.5 223.5 L676.5 394.5 L504.5 394.5 Z" fill="none" stroke="#2a2a2a" stroke-width="1.05"/>
<line x1="501.2" y1="394.3" x2="504.4" y2="394.3" stroke="#2a2a2a" stroke-width="0.8"/>
<line x1="502.9" y1="386.62" x2="504.4" y2="386.62" stroke="#2a2a2a" stroke-width="0.8"/>
<line x1="502.9" y1="378.95" x2="504.4" y2="378.95" stroke="#2a2a2a" stroke-width="0.8"/>
<line x1="502.9" y1="371.27" x2="504.4" y2="371.27" stroke="#2a2a2a" stroke-width="0.8"/>
<line x1="502.9" y1="363.59" x2="504.4" y2="363.59" stroke="#2a2a2a" stroke-width="0.8"/>
<line x1="501.2" y1="355.91" x2="504.4" y2="355.91" stroke="#2a2a2a" stroke-width="0.8"/>
<line x1="502.9" y1="348.24" x2="504.4" y2="348.24" stroke="#2a2a2a" stroke-width="0.8"/>
<line x1="502.9" y1="340.56" x2="504.4" y2="340.56" stroke="#2a2a2a" stroke-width="0.8"/>
<line x1="502.9" y1="332.88" x2="504.4" y2="332.88" stroke="#2a2a2a" stroke-width="0.8"/>
<line x1="502.9" y1="325.21" x2="504.4" y2="325.21" stroke="#2a2a2a" stroke-width="0.8"/>
<line x1="501.2" y1="317.53" x2="504.4" y2="317.53" stroke="#2a2a2a" stroke-width="0.8"/>
<line x1="502.9" y1="309.85" x2="504.4" y2="309.85" stroke="#2a2a2a" stroke-width="0.8"/>
<line x1="502.9" y1="302.17" x2="504.4" y2="302.17" stroke="#2a2a2a" stroke-width="0.8"/>
<line x1="502.9" y1="294.5" x2="504.4" y2="294.5" stroke="#2a2a2a" stroke-width="0.8"/>
<line x1="502.9" y1="286.82" x2="504.4" y2="286.82" stroke="#2a2a2a" stroke-width="0.8"/>
<line x1="501.2" y1="279.14" x2="504.4" y2="279.14" stroke="#2a2a2a" stroke-width="0.8"/>
<line x1="502.9" y1="271.47" x2="504.4" y2="271.47" stroke="#2a2a2a" stroke-width="0.8"/>
<line x1="502.9" y1="263.79" x2="504.4" y2="263.79" stroke="#2a2a2a" stroke-width="0.8"/>
<line x1="502.9" y1="256.11" x2="504.4" y2="256.11" stroke="#2a2a2a" stroke-width="0.8"/>
<line x1="502.9" y1="248.43" x2="504.4" y2="248.43" stroke="#2a2a2a" stroke-width="0.8"/>
<line x1="501.2" y1="240.76" x2="504.4" y2="240.76" stroke="#2a2a2a" stroke-width="0.8"/>
<line x1="502.9" y1="233.08" x2="504.4" y2="233.08" stroke="#2a2a2a" stroke-width="0.8"/>
<line x1="502.9" y1="225.4" x2="504.4" y2="225.4" stroke="#2a2a2a" stroke-width="0.8"/>
<line x1="501.2" y1="223.1" x2="504.4" y2="223.1" stroke="#2a2a2a" stroke-width="0.8"/>
<text x="497.2" y="394.3" transform="rotate(-90 497.2 394.3)" text-anchor="middle" font-size="6.8">0</text>
<text x="497.2" y="355.91" transform="rotate(-90 497.2 355.91)" text-anchor="middle" font-size="6.8">100</text>
<text x="497.2" y="317.53" transform="rotate(-90 497.2 317.53)" text-anchor="middle" font-size="6.8">200</text>
<text x="497.2" y="279.14" transform="rotate(-90 497.2 279.14)" text-anchor="middle" font-size="6.8">300</text>
<text x="497.2" y="240.76" transform="rotate(-90 497.2 240.76)" text-anchor="middle" font-size="6.8">400</text>
<text x="497.2" y="223.1" transform="rotate(-90 497.2 223.1)" text-anchor="middle" font-size="6.8">446</text>
<line x1="509.49" y1="394.3" x2="509.49" y2="395.6" stroke="#2a2a2a" stroke-width="0.8"/>
<line x1="515.84" y1="394.3" x2="515.84" y2="395.6" stroke="#2a2a2a" stroke-width="0.8"/>
<line x1="522.2" y1="394.3" x2="522.2" y2="395.6" stroke="#2a2a2a" stroke-width="0.8"/>
<line x1="528.56" y1="394.3" x2="528.56" y2="397" stroke="#2a2a2a" stroke-width="0.8"/>
<line x1="534.92" y1="394.3" x2="534.92" y2="395.6" stroke="#2a2a2a" stroke-width="0.8"/>
<line x1="541.28" y1="394.3" x2="541.28" y2="395.6" stroke="#2a2a2a" stroke-width="0.8"/>
<line x1="547.63" y1="394.3" x2="547.63" y2="395.6" stroke="#2a2a2a" stroke-width="0.8"/>
<line x1="553.99" y1="394.3" x2="553.99" y2="395.6" stroke="#2a2a2a" stroke-width="0.8"/>
<line x1="560.35" y1="394.3" x2="560.35" y2="397" stroke="#2a2a2a" stroke-width="0.8"/>
<line x1="566.71" y1="394.3" x2="566.71" y2="395.6" stroke="#2a2a2a" stroke-width="0.8"/>
<line x1="573.07" y1="394.3" x2="573.07" y2="395.6" stroke="#2a2a2a" stroke-width="0.8"/>
<line x1="579.43" y1="394.3" x2="579.43" y2="395.6" stroke="#2a2a2a" stroke-width="0.8"/>
<line x1="585.78" y1="394.3" x2="585.78" y2="395.6" stroke="#2a2a2a" stroke-width="0.8"/>
<line x1="592.14" y1="394.3" x2="592.14" y2="397" stroke="#2a2a2a" stroke-width="0.8"/>
<line x1="598.5" y1="394.3" x2="598.5" y2="395.6" stroke="#2a2a2a" stroke-width="0.8"/>
<line x1="604.86" y1="394.3" x2="604.86" y2="395.6" stroke="#2a2a2a" stroke-width="0.8"/>
<line x1="611.22" y1="394.3" x2="611.22" y2="395.6" stroke="#2a2a2a" stroke-width="0.8"/>
<line x1="617.57" y1="394.3" x2="617.57" y2="395.6" stroke="#2a2a2a" stroke-width="0.8"/>
<line x1="623.93" y1="394.3" x2="623.93" y2="397" stroke="#2a2a2a" stroke-width="0.8"/>
<line x1="630.29" y1="394.3" x2="630.29" y2="395.6" stroke="#2a2a2a" stroke-width="0.8"/>
<line x1="636.65" y1="394.3" x2="636.65" y2="395.6" stroke="#2a2a2a" stroke-width="0.8"/>
<line x1="643.01" y1="394.3" x2="643.01" y2="395.6" stroke="#2a2a2a" stroke-width="0.8"/>
<line x1="649.36" y1="394.3" x2="649.36" y2="395.6" stroke="#2a2a2a" stroke-width="0.8"/>
<line x1="655.72" y1="394.3" x2="655.72" y2="397" stroke="#2a2a2a" stroke-width="0.8"/>
<line x1="662.08" y1="394.3" x2="662.08" y2="395.6" stroke="#2a2a2a" stroke-width="0.8"/>
<line x1="668.44" y1="394.3" x2="668.44" y2="395.6" stroke="#2a2a2a" stroke-width="0.8"/>
<line x1="674.8" y1="394.3" x2="674.8" y2="395.6" stroke="#2a2a2a" stroke-width="0.8"/>
<line x1="504.4" y1="394.3" x2="504.4" y2="397" stroke="#2a2a2a" stroke-width="0.8"/>
<line x1="676.1" y1="394.3" x2="676.1" y2="397" stroke="#2a2a2a" stroke-width="0.8"/>
<text x="505.6" y="407.9" text-anchor="middle" font-size="7.1">124</text>
<text x="528.56" y="407.9" text-anchor="middle" font-size="7.1">200</text>
<text x="560.35" y="407.9" text-anchor="middle" font-size="7.1">300</text>
<text x="592.14" y="407.9" text-anchor="middle" font-size="7.1">400</text>
<text x="623.93" y="407.9" text-anchor="middle" font-size="7.1">500</text>
<text x="655.72" y="407.9" text-anchor="middle" font-size="7.1">600</text>
<text x="676.1" y="407.9" text-anchor="middle" font-size="7.1">664.1</text>
<text x="527.5" y="232.7" text-anchor="middle" font-size="6.8">G1</text>
<text x="586.4" y="232.7" text-anchor="middle" font-size="6.8">G2</text>
<text x="607" y="302.4" font-size="6.8">G1: 53.57</text>
<text x="607" y="314.3" font-size="6.8">G2: 13.2</text></g>
<g font-family='"Liberation Sans", sans-serif'><text x="1.8" y="14.6" font-size="18" text-anchor="start" font-weight="normal" fill="#111" stroke="#111" stroke-width="0.3">A</text>
<text x="1.2" y="219.7" font-size="19" text-anchor="start" font-weight="normal" fill="#111" stroke="#111" stroke-width="0.3">B</text>
<text x="7.9" y="455.5" font-size="20" text-anchor="start" font-weight="normal" fill="#111" stroke="#111" stroke-width="0.3">C</text>
<text x="352.9" y="453.1" font-size="19" text-anchor="start" font-weight="normal" fill="#111" stroke="#111" stroke-width="0.3">D</text>
<text x="4.3" y="109.4" font-size="12.1" text-anchor="start" font-weight="normal" fill="#111" stroke="#111" stroke-width="0.3">PANC-1</text>
<text x="1.0" y="319.1" font-size="12.5" text-anchor="start" font-weight="normal" fill="#111" stroke="#111" stroke-width="0.3">SW1990</text>
<text x="158.75" y="426" font-size="12.5" text-anchor="middle" font-weight="normal" fill="#111" stroke="#111" stroke-width="0.3">0</text>
<text x="383" y="423.6" font-size="12.2" text-anchor="middle" font-weight="normal" fill="#111" stroke="#111" stroke-width="0.3">10μM</text>
<text x="586.9" y="426" font-size="12.3" text-anchor="middle" font-weight="normal" fill="#111" stroke="#111" stroke-width="0.3">20μM</text>
<rect x="394.3" y="205.3" width="1.2" height="1.2" fill="#bbb"/>
<rect x="183" y="413.8" width="1.2" height="1.2" fill="#c4c4c4"/>
<text x="179" y="462.2" font-size="12" text-anchor="middle" font-weight="bold" fill="#111" >PANC-1</text>
<text x="84.0" y="543.0" transform="rotate(-90 84.0 543.0)" font-size="10.6" text-anchor="middle" font-weight="bold" fill="#111">The proportion of subphase cell(%)</text>
<rect x="117.00" y="551.85" width="11.80" height="55.95" fill="#0000ff" stroke="#000" stroke-width="1.8"/>
<line x1="122.90" y1="550.40" x2="122.90" y2="551.45" stroke="#111" stroke-width="0.9"/>
<line x1="119.70" y1="550.40" x2="126.10" y2="550.40" stroke="#111" stroke-width="0.9"/>
<line x1="122.90" y1="607.80" x2="122.90" y2="612.80" stroke="#000" stroke-width="1.2"/>
<rect x="137.00" y="520.53" width="11.15" height="87.27" fill="#0000ff" stroke="#000" stroke-width="1.8"/>
<line x1="142.57" y1="518.40" x2="142.57" y2="520.13" stroke="#111" stroke-width="0.9"/>
<line x1="139.38" y1="518.40" x2="145.77" y2="518.40" stroke="#111" stroke-width="0.9"/>
<line x1="142.57" y1="607.80" x2="142.57" y2="612.80" stroke="#000" stroke-width="1.2"/>
<rect x="157.00" y="504.47" width="11.05" height="103.33" fill="#0000ff" stroke="#000" stroke-width="1.8"/>
<line x1="162.52" y1="502.50" x2="162.52" y2="504.07" stroke="#111" stroke-width="0.9"/>
<line x1="159.32" y1="502.50" x2="165.72" y2="502.50" stroke="#111" stroke-width="0.9"/>
<line x1="162.52" y1="607.80" x2="162.52" y2="612.80" stroke="#000" stroke-width="1.2"/>
<rect x="190.00" y="573.69" width="11.00" height="34.11" fill="#ff0000" stroke="#000" stroke-width="1.8"/>
<line x1="195.50" y1="571.50" x2="195.50" y2="573.29" stroke="#111" stroke-width="0.9"/>
<line x1="192.30" y1="571.50" x2="198.70" y2="571.50" stroke="#111" stroke-width="0.9"/>
<line x1="195.50" y1="607.80" x2="195.50" y2="612.80" stroke="#000" stroke-width="1.2"/>
<rect x="210.00" y="577.70" width="11.00" height="30.10" fill="#ff0000" stroke="#000" stroke-width="1.8"/>
<line x1="215.50" y1="576.30" x2="215.50" y2="577.30" stroke="#111" stroke-width="0.9"/>
<line x1="212.30" y1="576.30" x2="218.70" y2="576.30" stroke="#111" stroke-width="0.9"/>
<line x1="215.50" y1="607.80" x2="215.50" y2="612.80" stroke="#000" stroke-width="1.2"/>
<rect x="229.80" y="592.80" width="11.00" height="15.00" fill="#ff0000" stroke="#000" stroke-width="1.8"/>
<line x1="235.30" y1="590.40" x2="235.30" y2="592.40" stroke="#111" stroke-width="0.9"/>
<line x1="232.10" y1="590.40" x2="238.50" y2="590.40" stroke="#111" stroke-width="0.9"/>
<line x1="235.30" y1="607.80" x2="235.30" y2="612.80" stroke="#000" stroke-width="1.2"/>
<path d="M109.6 479.31999999999994 L109.6 607.8 L248.8 607.8" fill="none" stroke="#000" stroke-width="1.6"/>
<line x1="104.60" y1="607.80" x2="109.60" y2="607.80" stroke="#000" stroke-width="1.2"/>
<text x="102.6" y="611.20" font-size="9.5" text-anchor="end" font-weight="bold" fill="#111" >0</text>
<line x1="104.60" y1="575.68" x2="109.60" y2="575.68" stroke="#000" stroke-width="1.2"/>
<text x="102.6" y="579.08" font-size="9.5" text-anchor="end" font-weight="bold" fill="#111" >20</text>
<line x1="104.60" y1="543.56" x2="109.60" y2="543.56" stroke="#000" stroke-width="1.2"/>
<text x="102.6" y="546.96" font-size="9.5" text-anchor="end" font-weight="bold" fill="#111" >40</text>
<line x1="104.60" y1="511.44" x2="109.60" y2="511.44" stroke="#000" stroke-width="1.2"/>
<text x="102.6" y="514.84" font-size="9.5" text-anchor="end" font-weight="bold" fill="#111" >60</text>
<line x1="104.60" y1="479.32" x2="109.60" y2="479.32" stroke="#000" stroke-width="1.2"/>
<text x="102.6" y="482.72" font-size="9.5" text-anchor="end" font-weight="bold" fill="#111" >80</text>
<line x1="132.90" y1="512.70" x2="152.60" y2="512.70" stroke="#1a1a1a" stroke-width="1.6"/>
<text x="137.75" y="510.50" font-size="9.2" text-anchor="middle" font-weight="bold" fill="#111" >*</text>
<text x="142.45" y="510.50" font-size="9.2" text-anchor="middle" font-weight="bold" fill="#111" >*</text>
<text x="147.15" y="510.50" font-size="9.2" text-anchor="middle" font-weight="bold" fill="#111" >*</text>
<line x1="153.90" y1="496.90" x2="173.10" y2="496.90" stroke="#1a1a1a" stroke-width="1.6"/>
<text x="158.50" y="494.70" font-size="9.2" text-anchor="middle" font-weight="bold" fill="#111" >*</text>
<text x="163.20" y="494.70" font-size="9.2" text-anchor="middle" font-weight="bold" fill="#111" >*</text>
<text x="167.90" y="494.70" font-size="9.2" text-anchor="middle" font-weight="bold" fill="#111" >*</text>
<line x1="206.20" y1="571.70" x2="225.60" y2="571.70" stroke="#1a1a1a" stroke-width="1.6"/>
<text x="210.90" y="569.50" font-size="9.2" text-anchor="middle" font-weight="bold" fill="#111" >*</text>
<text x="215.60" y="569.50" font-size="9.2" text-anchor="middle" font-weight="bold" fill="#111" >*</text>
<text x="220.30" y="569.50" font-size="9.2" text-anchor="middle" font-weight="bold" fill="#111" >*</text>
<line x1="225.90" y1="586.50" x2="245.00" y2="586.50" stroke="#1a1a1a" stroke-width="1.6"/>
<text x="230.45" y="584.30" font-size="9.2" text-anchor="middle" font-weight="bold" fill="#111" >*</text>
<text x="235.15" y="584.30" font-size="9.2" text-anchor="middle" font-weight="bold" fill="#111" >*</text>
<text x="239.85" y="584.30" font-size="9.2" text-anchor="middle" font-weight="bold" fill="#111" >*</text>
<rect x="224.50" y="485.90" width="11.70" height="5.20" fill="#0000ff" stroke="#000" stroke-width="1.8"/>
<text x="245.1" y="492.3" font-size="10.5" text-anchor="start" font-weight="normal" fill="#111" >G1</text>
<rect x="224.50" y="503.20" width="11.70" height="4.90" fill="#ff0000" stroke="#000" stroke-width="1.8"/>
<text x="245.1" y="509.5" font-size="10.5" text-anchor="start" font-weight="normal" fill="#111" >G2</text>
<text x="125.50" y="622.10" transform="rotate(-45 125.50 622.10)" font-size="9.5" text-anchor="end" font-weight="bold" fill="#111">0</text>
<text x="145.40" y="622.10" transform="rotate(-45 145.40 622.10)" font-size="9.5" text-anchor="end" font-weight="bold" fill="#111">10µM</text>
<text x="165.20" y="622.10" transform="rotate(-45 165.20 622.10)" font-size="9.5" text-anchor="end" font-weight="bold" fill="#111">20µM</text>
<text x="198.10" y="622.10" transform="rotate(-45 198.10 622.10)" font-size="9.5" text-anchor="end" font-weight="bold" fill="#111">0</text>
<text x="218.00" y="622.10" transform="rotate(-45 218.00 622.10)" font-size="9.5" text-anchor="end" font-weight="bold" fill="#111">10µM</text>
<text x="237.60" y="622.10" transform="rotate(-45 237.60 622.10)" font-size="9.5" text-anchor="end" font-weight="bold" fill="#111">20µM</text>
<text x="505" y="471.4" font-size="11.5" text-anchor="middle" font-weight="bold" fill="#111" >SW1990</text>
<text x="418.5" y="546.1" transform="rotate(-90 418.5 546.1)" font-size="9.9" text-anchor="middle" font-weight="bold" fill="#111">The proportion of subphase cell(%)</text>
<rect x="447.85" y="532.84" width="10.00" height="73.66" fill="#0000ff" stroke="#000" stroke-width="1.7"/>
<line x1="452.85" y1="531.30" x2="452.85" y2="532.49" stroke="#111" stroke-width="0.9"/>
<line x1="449.65" y1="531.30" x2="456.05" y2="531.30" stroke="#111" stroke-width="0.9"/>
<line x1="452.85" y1="606.50" x2="452.85" y2="611.50" stroke="#000" stroke-width="1.2"/>
<rect x="466.35" y="525.88" width="10.00" height="80.62" fill="#0000ff" stroke="#000" stroke-width="1.7"/>
<line x1="471.35" y1="524.00" x2="471.35" y2="525.53" stroke="#111" stroke-width="0.9"/>
<line x1="468.15" y1="524.00" x2="474.55" y2="524.00" stroke="#111" stroke-width="0.9"/>
<line x1="471.35" y1="606.50" x2="471.35" y2="611.50" stroke="#000" stroke-width="1.2"/>
<rect x="485.05" y="500.65" width="10.00" height="105.85" fill="#0000ff" stroke="#000" stroke-width="1.7"/>
<line x1="490.05" y1="498.20" x2="490.05" y2="500.30" stroke="#111" stroke-width="0.9"/>
<line x1="486.85" y1="498.20" x2="493.25" y2="498.20" stroke="#111" stroke-width="0.9"/>
<line x1="490.05" y1="606.50" x2="490.05" y2="611.50" stroke="#000" stroke-width="1.2"/>
<rect x="515.45" y="563.64" width="10.00" height="42.86" fill="#ff0000" stroke="#000" stroke-width="1.7"/>
<line x1="520.45" y1="561.50" x2="520.45" y2="563.29" stroke="#111" stroke-width="0.9"/>
<line x1="517.25" y1="561.50" x2="523.65" y2="561.50" stroke="#111" stroke-width="0.9"/>
<line x1="520.45" y1="606.50" x2="520.45" y2="611.50" stroke="#000" stroke-width="1.2"/>
<rect x="534.15" y="575.16" width="9.50" height="31.34" fill="#ff0000" stroke="#000" stroke-width="1.7"/>
<line x1="538.90" y1="571.00" x2="538.90" y2="574.81" stroke="#111" stroke-width="0.9"/>
<line x1="535.70" y1="571.00" x2="542.10" y2="571.00" stroke="#111" stroke-width="0.9"/>
<line x1="538.90" y1="574.31" x2="538.90" y2="578.20" stroke="#111" stroke-width="0.9"/>
<line x1="535.70" y1="578.20" x2="542.10" y2="578.20" stroke="#111" stroke-width="0.9"/>
<line x1="538.90" y1="606.50" x2="538.90" y2="611.50" stroke="#000" stroke-width="1.2"/>
<rect x="552.65" y="577.55" width="10.00" height="28.95" fill="#ff0000" stroke="#000" stroke-width="1.7"/>
<line x1="557.65" y1="573.40" x2="557.65" y2="577.20" stroke="#111" stroke-width="0.9"/>
<line x1="554.45" y1="573.40" x2="560.85" y2="573.40" stroke="#111" stroke-width="0.9"/>
<line x1="557.65" y1="576.70" x2="557.65" y2="580.10" stroke="#111" stroke-width="0.9"/>
<line x1="554.45" y1="580.10" x2="560.85" y2="580.10" stroke="#111" stroke-width="0.9"/>
<line x1="557.65" y1="606.50" x2="557.65" y2="611.50" stroke="#000" stroke-width="1.2"/>
<path d="M440.7 487.28 L440.7 606.5 L570.4 606.5" fill="none" stroke="#000" stroke-width="1.5"/>
<line x1="435.70" y1="606.50" x2="440.70" y2="606.50" stroke="#000" stroke-width="1.2"/>
<text x="434.0" y="609.60" font-size="8.6" text-anchor="end" font-weight="bold" fill="#111" >0</text>
<line x1="435.70" y1="566.76" x2="440.70" y2="566.76" stroke="#000" stroke-width="1.2"/>
<text x="434.0" y="569.86" font-size="8.6" text-anchor="end" font-weight="bold" fill="#111" >20</text>
<line x1="435.70" y1="527.02" x2="440.70" y2="527.02" stroke="#000" stroke-width="1.2"/>
<text x="434.0" y="530.12" font-size="8.6" text-anchor="end" font-weight="bold" fill="#111" >40</text>
<line x1="435.70" y1="487.28" x2="440.70" y2="487.28" stroke="#000" stroke-width="1.2"/>
<text x="434.0" y="490.38" font-size="8.6" text-anchor="end" font-weight="bold" fill="#111" >60</text>
<line x1="461.40" y1="520.10" x2="480.00" y2="520.10" stroke="#1a1a1a" stroke-width="1.5"/>
<text x="466.30" y="518.00" font-size="8.4" text-anchor="middle" font-weight="bold" fill="#111" >*</text>
<text x="470.50" y="518.00" font-size="8.4" text-anchor="middle" font-weight="bold" fill="#111" >*</text>
<text x="474.70" y="518.00" font-size="8.4" text-anchor="middle" font-weight="bold" fill="#111" >*</text>
<line x1="480.30" y1="494.70" x2="498.70" y2="494.70" stroke="#1a1a1a" stroke-width="1.5"/>
<text x="485.10" y="492.60" font-size="8.4" text-anchor="middle" font-weight="bold" fill="#111" >*</text>
<text x="489.30" y="492.60" font-size="8.4" text-anchor="middle" font-weight="bold" fill="#111" >*</text>
<text x="493.50" y="492.60" font-size="8.4" text-anchor="middle" font-weight="bold" fill="#111" >*</text>
<line x1="530.70" y1="566.60" x2="548.60" y2="566.60" stroke="#1a1a1a" stroke-width="1.5"/>
<text x="535.25" y="564.50" font-size="8.4" text-anchor="middle" font-weight="bold" fill="#111" >*</text>
<text x="539.45" y="564.50" font-size="8.4" text-anchor="middle" font-weight="bold" fill="#111" >*</text>
<text x="543.65" y="564.50" font-size="8.4" text-anchor="middle" font-weight="bold" fill="#111" >*</text>
<line x1="548.20" y1="569.90" x2="566.00" y2="569.90" stroke="#1a1a1a" stroke-width="1.5"/>
<text x="552.70" y="567.80" font-size="8.4" text-anchor="middle" font-weight="bold" fill="#111" >*</text>
<text x="556.90" y="567.80" font-size="8.4" text-anchor="middle" font-weight="bold" fill="#111" >*</text>
<text x="561.10" y="567.80" font-size="8.4" text-anchor="middle" font-weight="bold" fill="#111" >*</text>
<rect x="547.80" y="493.20" width="10.70" height="4.20" fill="#0000ff" stroke="#000" stroke-width="1.8"/>
<text x="566.8" y="498.1" font-size="9.5" text-anchor="start" font-weight="normal" fill="#111" >G1</text>
<rect x="547.80" y="508.90" width="10.70" height="4.70" fill="#ff0000" stroke="#000" stroke-width="1.8"/>
<text x="566.8" y="514.3" font-size="9.5" text-anchor="start" font-weight="normal" fill="#111" >G2</text>
<text x="455.40" y="620.50" transform="rotate(-45 455.40 620.50)" font-size="8.6" text-anchor="end" font-weight="bold" fill="#111">0</text>
<text x="474.10" y="620.50" transform="rotate(-45 474.10 620.50)" font-size="8.6" text-anchor="end" font-weight="bold" fill="#111">10µM</text>
<text x="492.80" y="620.50" transform="rotate(-45 492.80 620.50)" font-size="8.6" text-anchor="end" font-weight="bold" fill="#111">20µM</text>
<text x="523.10" y="620.50" transform="rotate(-45 523.10 620.50)" font-size="8.6" text-anchor="end" font-weight="bold" fill="#111">0</text>
<text x="541.70" y="620.50" transform="rotate(-45 541.70 620.50)" font-size="8.6" text-anchor="end" font-weight="bold" fill="#111">10µM</text>
<text x="560.40" y="620.50" transform="rotate(-45 560.40 620.50)" font-size="8.6" text-anchor="end" font-weight="bold" fill="#111">20µM</text></g>
</svg></body></html>
